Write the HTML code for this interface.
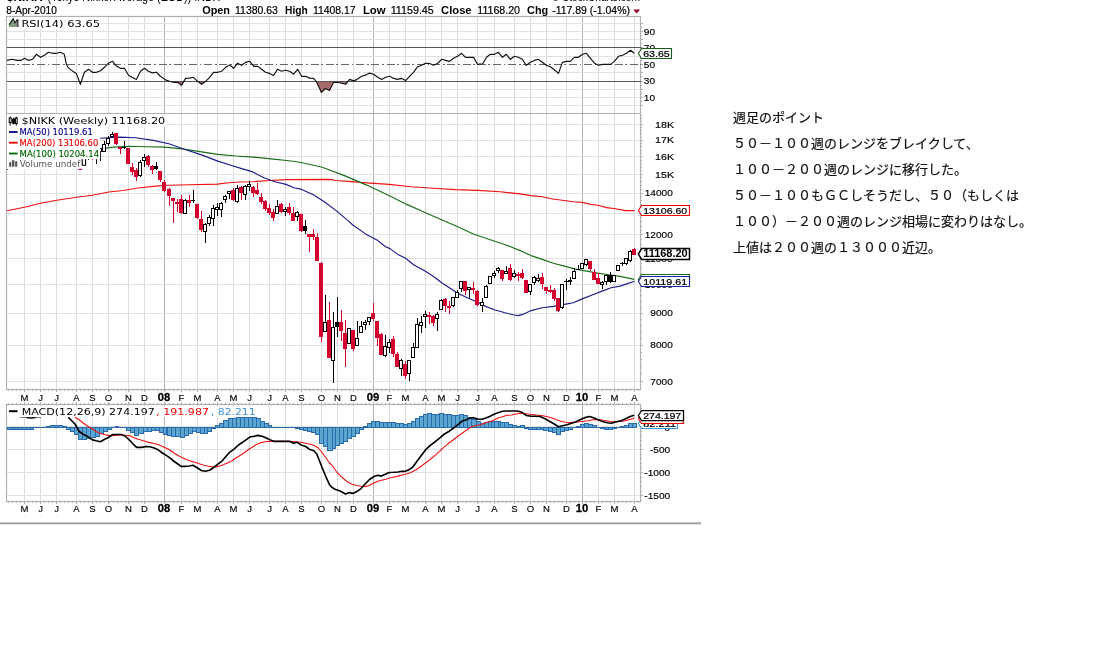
<!DOCTYPE html>
<html lang="ja"><head><meta charset="utf-8"><title>NIKK Weekly</title>
<style>
html,body{margin:0;padding:0;background:#fff;}
body{width:1107px;height:666px;overflow:hidden;position:relative;font-family:"Liberation Sans","Noto Sans CJK JP",sans-serif;}
svg{position:absolute;left:0;top:0;display:block;}
.note{position:absolute;left:733px;top:105px;margin:0;font-size:13px;line-height:26px;color:#111;white-space:nowrap;-webkit-text-stroke:0.2px #111;font-family:"Liberation Sans","Noto Sans CJK JP",sans-serif;letter-spacing:0px;}
.note p{margin:0;}
.ax{font-family:"Liberation Sans",sans-serif;font-size:10.5px;fill:#000;}
.lg{font-family:"DejaVu Sans","Liberation Sans",sans-serif;}
</style></head><body>
<svg width="1107" height="666" viewBox="0 0 1107 666">
<rect x="0" y="0" width="1107" height="666" fill="#fff"/>
<g font-family="Liberation Sans, sans-serif" fill="#000">
<text x="6.7" y="0.8" font-size="12.4" font-weight="bold" textLength="36.1" lengthAdjust="spacingAndGlyphs">$NIKK</text>
<text x="47.6" y="0.8" font-size="12" textLength="172.4" lengthAdjust="spacingAndGlyphs">(Tokyo Nikkei Average (EOD)) INDX</text>
<text x="552" y="0.6" font-size="11" textLength="88" lengthAdjust="spacingAndGlyphs">© StockCharts.com</text>
<text x="6.3" y="13.9" font-size="10" stroke="#000" stroke-width="0.2" textLength="50.5" lengthAdjust="spacingAndGlyphs">8-Apr-2010</text>
<text x="202.2" y="13.9" font-size="10.8" font-weight="bold" textLength="27.8" lengthAdjust="spacingAndGlyphs">Open</text>
<text x="235.1" y="13.9" font-size="10" stroke="#000" stroke-width="0.2" textLength="42.7" lengthAdjust="spacingAndGlyphs">11380.63</text>
<text x="285.1" y="13.9" font-size="10.8" font-weight="bold" textLength="22.7" lengthAdjust="spacingAndGlyphs">High</text>
<text x="312.9" y="13.9" font-size="10" stroke="#000" stroke-width="0.2" textLength="42.7" lengthAdjust="spacingAndGlyphs">11408.17</text>
<text x="362.9" y="13.9" font-size="10.8" font-weight="bold" textLength="22.7" lengthAdjust="spacingAndGlyphs">Low</text>
<text x="390.7" y="13.9" font-size="10" stroke="#000" stroke-width="0.2" textLength="43.1" lengthAdjust="spacingAndGlyphs">11159.45</text>
<text x="441.1" y="13.9" font-size="10.8" font-weight="bold" textLength="30.5" lengthAdjust="spacingAndGlyphs">Close</text>
<text x="477.3" y="13.9" font-size="10" stroke="#000" stroke-width="0.2" textLength="42.7" lengthAdjust="spacingAndGlyphs">11168.20</text>
<text x="527.1" y="13.9" font-size="10.8" font-weight="bold" textLength="21.1" lengthAdjust="spacingAndGlyphs">Chg</text>
<text x="552.2" y="13.9" font-size="10" stroke="#000" stroke-width="0.2" textLength="77.8" lengthAdjust="spacingAndGlyphs">-117.89 (-1.04%)</text>
<path d="M633.2 9.6 L640.2 9.6 L636.7 13.6 Z" fill="#990028"/>
</g>
<g shape-rendering="crispEdges" fill="none">
<path d="M24.5 16.5 V389.5 M24.5 404.5 V501.5" stroke="#dcdcdc" stroke-width="1"/>
<path d="M40.5 16.5 V389.5 M40.5 404.5 V501.5" stroke="#dcdcdc" stroke-width="1"/>
<path d="M56.5 16.5 V389.5 M56.5 404.5 V501.5" stroke="#dcdcdc" stroke-width="1"/>
<path d="M76.5 16.5 V389.5 M76.5 404.5 V501.5" stroke="#dcdcdc" stroke-width="1"/>
<path d="M92.5 16.5 V389.5 M92.5 404.5 V501.5" stroke="#dcdcdc" stroke-width="1"/>
<path d="M108.5 16.5 V389.5 M108.5 404.5 V501.5" stroke="#dcdcdc" stroke-width="1"/>
<path d="M128.5 16.5 V389.5 M128.5 404.5 V501.5" stroke="#dcdcdc" stroke-width="1"/>
<path d="M144.5 16.5 V389.5 M144.5 404.5 V501.5" stroke="#dcdcdc" stroke-width="1"/>
<path d="M164.5 16.5 V389.5 M164.5 404.5 V501.5" stroke="#b2b2b2" stroke-width="1"/>
<path d="M181.5 16.5 V389.5 M181.5 404.5 V501.5" stroke="#dcdcdc" stroke-width="1"/>
<path d="M197.5 16.5 V389.5 M197.5 404.5 V501.5" stroke="#dcdcdc" stroke-width="1"/>
<path d="M217.5 16.5 V389.5 M217.5 404.5 V501.5" stroke="#dcdcdc" stroke-width="1"/>
<path d="M233.5 16.5 V389.5 M233.5 404.5 V501.5" stroke="#dcdcdc" stroke-width="1"/>
<path d="M249.5 16.5 V389.5 M249.5 404.5 V501.5" stroke="#dcdcdc" stroke-width="1"/>
<path d="M269.5 16.5 V389.5 M269.5 404.5 V501.5" stroke="#dcdcdc" stroke-width="1"/>
<path d="M285.5 16.5 V389.5 M285.5 404.5 V501.5" stroke="#dcdcdc" stroke-width="1"/>
<path d="M301.5 16.5 V389.5 M301.5 404.5 V501.5" stroke="#dcdcdc" stroke-width="1"/>
<path d="M321.5 16.5 V389.5 M321.5 404.5 V501.5" stroke="#dcdcdc" stroke-width="1"/>
<path d="M337.5 16.5 V389.5 M337.5 404.5 V501.5" stroke="#dcdcdc" stroke-width="1"/>
<path d="M353.5 16.5 V389.5 M353.5 404.5 V501.5" stroke="#dcdcdc" stroke-width="1"/>
<path d="M373.5 16.5 V389.5 M373.5 404.5 V501.5" stroke="#b2b2b2" stroke-width="1"/>
<path d="M389.5 16.5 V389.5 M389.5 404.5 V501.5" stroke="#dcdcdc" stroke-width="1"/>
<path d="M405.5 16.5 V389.5 M405.5 404.5 V501.5" stroke="#dcdcdc" stroke-width="1"/>
<path d="M425.5 16.5 V389.5 M425.5 404.5 V501.5" stroke="#dcdcdc" stroke-width="1"/>
<path d="M441.5 16.5 V389.5 M441.5 404.5 V501.5" stroke="#dcdcdc" stroke-width="1"/>
<path d="M457.5 16.5 V389.5 M457.5 404.5 V501.5" stroke="#dcdcdc" stroke-width="1"/>
<path d="M477.5 16.5 V389.5 M477.5 404.5 V501.5" stroke="#dcdcdc" stroke-width="1"/>
<path d="M494.5 16.5 V389.5 M494.5 404.5 V501.5" stroke="#dcdcdc" stroke-width="1"/>
<path d="M514.5 16.5 V389.5 M514.5 404.5 V501.5" stroke="#dcdcdc" stroke-width="1"/>
<path d="M530.5 16.5 V389.5 M530.5 404.5 V501.5" stroke="#dcdcdc" stroke-width="1"/>
<path d="M546.5 16.5 V389.5 M546.5 404.5 V501.5" stroke="#dcdcdc" stroke-width="1"/>
<path d="M566.5 16.5 V389.5 M566.5 404.5 V501.5" stroke="#dcdcdc" stroke-width="1"/>
<path d="M582.5 16.5 V389.5 M582.5 404.5 V501.5" stroke="#b2b2b2" stroke-width="1"/>
<path d="M598.5 16.5 V389.5 M598.5 404.5 V501.5" stroke="#dcdcdc" stroke-width="1"/>
<path d="M614.5 16.5 V389.5 M614.5 404.5 V501.5" stroke="#dcdcdc" stroke-width="1"/>
<path d="M634.5 16.5 V389.5 M634.5 404.5 V501.5" stroke="#dcdcdc" stroke-width="1"/>
<path d="M6.5 105.8 H640.5" stroke="#e2e2e2"/>
<path d="M6.5 97.5 H640.5" stroke="#e2e2e2"/>
<path d="M6.5 89.2 H640.5" stroke="#e2e2e2"/>
<path d="M6.5 72.7 H640.5" stroke="#e2e2e2"/>
<path d="M6.5 56.1 H640.5" stroke="#e2e2e2"/>
<path d="M6.5 39.6 H640.5" stroke="#e2e2e2"/>
<path d="M6.5 31.3 H640.5" stroke="#e2e2e2"/>
<path d="M6.5 23.0 H640.5" stroke="#e2e2e2"/>
<path d="M6.5 381.4 H640.5" stroke="#e2e2e2"/>
<path d="M6.5 345.1 H640.5" stroke="#e2e2e2"/>
<path d="M6.5 313.1 H640.5" stroke="#e2e2e2"/>
<path d="M6.5 284.5 H640.5" stroke="#e2e2e2"/>
<path d="M6.5 258.6 H640.5" stroke="#e2e2e2"/>
<path d="M6.5 234.9 H640.5" stroke="#e2e2e2"/>
<path d="M6.5 213.1 H640.5" stroke="#e2e2e2"/>
<path d="M6.5 193.0 H640.5" stroke="#e2e2e2"/>
<path d="M6.5 174.3 H640.5" stroke="#e2e2e2"/>
<path d="M6.5 156.7 H640.5" stroke="#e2e2e2"/>
<path d="M6.5 140.2 H640.5" stroke="#e2e2e2"/>
<path d="M6.5 124.7 H640.5" stroke="#e2e2e2"/>
<path d="M6.5 426.6 H640.5" stroke="#e2e2e2"/>
<path d="M6.5 449.7 H640.5" stroke="#e2e2e2"/>
<path d="M6.5 472.7 H640.5" stroke="#e2e2e2"/>
<path d="M6.5 495.8 H640.5" stroke="#e2e2e2"/>
</g>
<g fill="none" stroke="#b0b0b0" stroke-width="1.2">
<rect x="6.5" y="16.5" width="634.0" height="373.0"/>
<path d="M6.5 113.5 H640.5"/>
<rect x="6.5" y="404.5" width="634.0" height="97.0"/>
</g>
<g stroke="#b0b0b0" stroke-width="1" fill="none" shape-rendering="crispEdges">
<path d="M640.5 105.8 h2.5"/>
<path d="M640.5 101.7 h1.5"/>
<path d="M640.5 97.5 h2.5"/>
<path d="M640.5 93.4 h1.5"/>
<path d="M640.5 89.2 h2.5"/>
<path d="M640.5 85.1 h1.5"/>
<path d="M640.5 81.0 h2.5"/>
<path d="M640.5 76.8 h1.5"/>
<path d="M640.5 72.7 h2.5"/>
<path d="M640.5 68.6 h1.5"/>
<path d="M640.5 64.4 h2.5"/>
<path d="M640.5 60.3 h1.5"/>
<path d="M640.5 56.1 h2.5"/>
<path d="M640.5 52.0 h1.5"/>
<path d="M640.5 47.9 h2.5"/>
<path d="M640.5 43.7 h1.5"/>
<path d="M640.5 39.6 h2.5"/>
<path d="M640.5 35.5 h1.5"/>
<path d="M640.5 31.3 h2.5"/>
<path d="M640.5 27.2 h1.5"/>
<path d="M640.5 23.0 h2.5"/>
<path d="M640.5 381.4 h2.5"/>
<path d="M640.5 373.7 h1.5"/>
<path d="M640.5 366.3 h1.5"/>
<path d="M640.5 359.1 h1.5"/>
<path d="M640.5 352.0 h1.5"/>
<path d="M640.5 345.1 h2.5"/>
<path d="M640.5 338.4 h1.5"/>
<path d="M640.5 331.8 h1.5"/>
<path d="M640.5 325.5 h1.5"/>
<path d="M640.5 319.2 h1.5"/>
<path d="M640.5 313.1 h2.5"/>
<path d="M640.5 307.1 h1.5"/>
<path d="M640.5 301.3 h1.5"/>
<path d="M640.5 295.6 h1.5"/>
<path d="M640.5 290.0 h1.5"/>
<path d="M640.5 284.5 h2.5"/>
<path d="M640.5 279.1 h1.5"/>
<path d="M640.5 273.8 h1.5"/>
<path d="M640.5 268.6 h1.5"/>
<path d="M640.5 263.5 h1.5"/>
<path d="M640.5 258.6 h2.5"/>
<path d="M640.5 253.7 h1.5"/>
<path d="M640.5 248.8 h1.5"/>
<path d="M640.5 244.1 h1.5"/>
<path d="M640.5 239.5 h1.5"/>
<path d="M640.5 234.9 h2.5"/>
<path d="M640.5 230.4 h1.5"/>
<path d="M640.5 226.0 h1.5"/>
<path d="M640.5 221.6 h1.5"/>
<path d="M640.5 217.4 h1.5"/>
<path d="M640.5 213.1 h2.5"/>
<path d="M640.5 209.0 h1.5"/>
<path d="M640.5 204.9 h1.5"/>
<path d="M640.5 200.9 h1.5"/>
<path d="M640.5 196.9 h1.5"/>
<path d="M640.5 193.0 h2.5"/>
<path d="M640.5 189.2 h1.5"/>
<path d="M640.5 185.4 h1.5"/>
<path d="M640.5 181.6 h1.5"/>
<path d="M640.5 177.9 h1.5"/>
<path d="M640.5 174.3 h2.5"/>
<path d="M640.5 170.7 h1.5"/>
<path d="M640.5 167.1 h1.5"/>
<path d="M640.5 163.6 h1.5"/>
<path d="M640.5 160.1 h1.5"/>
<path d="M640.5 156.7 h2.5"/>
<path d="M640.5 153.3 h1.5"/>
<path d="M640.5 150.0 h1.5"/>
<path d="M640.5 146.7 h1.5"/>
<path d="M640.5 143.5 h1.5"/>
<path d="M640.5 140.2 h2.5"/>
<path d="M640.5 137.1 h1.5"/>
<path d="M640.5 133.9 h1.5"/>
<path d="M640.5 130.8 h1.5"/>
<path d="M640.5 127.7 h1.5"/>
<path d="M640.5 124.7 h2.5"/>
<path d="M640.5 121.7 h1.5"/>
<path d="M640.5 118.7 h1.5"/>
<path d="M640.5 115.8 h1.5"/>
<path d="M640.5 500.4 h1.5"/>
<path d="M640.5 495.8 h2.5"/>
<path d="M640.5 491.1 h1.5"/>
<path d="M640.5 486.5 h1.5"/>
<path d="M640.5 481.9 h1.5"/>
<path d="M640.5 477.3 h1.5"/>
<path d="M640.5 472.7 h2.5"/>
<path d="M640.5 468.1 h1.5"/>
<path d="M640.5 463.5 h1.5"/>
<path d="M640.5 458.9 h1.5"/>
<path d="M640.5 454.3 h1.5"/>
<path d="M640.5 449.7 h2.5"/>
<path d="M640.5 445.0 h1.5"/>
<path d="M640.5 440.4 h1.5"/>
<path d="M640.5 435.8 h1.5"/>
<path d="M640.5 431.2 h1.5"/>
<path d="M640.5 426.6 h2.5"/>
<path d="M640.5 422.0 h1.5"/>
<path d="M640.5 417.4 h1.5"/>
<path d="M640.5 412.8 h1.5"/>
<path d="M640.5 408.2 h1.5"/>
<path d="M8.6 389.5 v1.5 M8.6 404.5 v-1.5 M8.6 501.5 v1.5"/>
<path d="M12.6 389.5 v1.5 M12.6 404.5 v-1.5 M12.6 501.5 v1.5"/>
<path d="M16.6 389.5 v1.5 M16.6 404.5 v-1.5 M16.6 501.5 v1.5"/>
<path d="M20.6 389.5 v1.5 M20.6 404.5 v-1.5 M20.6 501.5 v1.5"/>
<path d="M24.7 389.5 v1.5 M24.7 404.5 v-1.5 M24.7 501.5 v1.5"/>
<path d="M28.7 389.5 v1.5 M28.7 404.5 v-1.5 M28.7 501.5 v1.5"/>
<path d="M32.7 389.5 v1.5 M32.7 404.5 v-1.5 M32.7 501.5 v1.5"/>
<path d="M36.7 389.5 v1.5 M36.7 404.5 v-1.5 M36.7 501.5 v1.5"/>
<path d="M40.7 389.5 v1.5 M40.7 404.5 v-1.5 M40.7 501.5 v1.5"/>
<path d="M44.7 389.5 v1.5 M44.7 404.5 v-1.5 M44.7 501.5 v1.5"/>
<path d="M48.7 389.5 v1.5 M48.7 404.5 v-1.5 M48.7 501.5 v1.5"/>
<path d="M52.8 389.5 v1.5 M52.8 404.5 v-1.5 M52.8 501.5 v1.5"/>
<path d="M56.8 389.5 v1.5 M56.8 404.5 v-1.5 M56.8 501.5 v1.5"/>
<path d="M60.8 389.5 v1.5 M60.8 404.5 v-1.5 M60.8 501.5 v1.5"/>
<path d="M64.8 389.5 v1.5 M64.8 404.5 v-1.5 M64.8 501.5 v1.5"/>
<path d="M68.8 389.5 v1.5 M68.8 404.5 v-1.5 M68.8 501.5 v1.5"/>
<path d="M72.8 389.5 v1.5 M72.8 404.5 v-1.5 M72.8 501.5 v1.5"/>
<path d="M76.8 389.5 v1.5 M76.8 404.5 v-1.5 M76.8 501.5 v1.5"/>
<path d="M80.9 389.5 v1.5 M80.9 404.5 v-1.5 M80.9 501.5 v1.5"/>
<path d="M84.9 389.5 v1.5 M84.9 404.5 v-1.5 M84.9 501.5 v1.5"/>
<path d="M88.9 389.5 v1.5 M88.9 404.5 v-1.5 M88.9 501.5 v1.5"/>
<path d="M92.9 389.5 v1.5 M92.9 404.5 v-1.5 M92.9 501.5 v1.5"/>
<path d="M96.9 389.5 v1.5 M96.9 404.5 v-1.5 M96.9 501.5 v1.5"/>
<path d="M100.9 389.5 v1.5 M100.9 404.5 v-1.5 M100.9 501.5 v1.5"/>
<path d="M104.9 389.5 v1.5 M104.9 404.5 v-1.5 M104.9 501.5 v1.5"/>
<path d="M109.0 389.5 v1.5 M109.0 404.5 v-1.5 M109.0 501.5 v1.5"/>
<path d="M113.0 389.5 v1.5 M113.0 404.5 v-1.5 M113.0 501.5 v1.5"/>
<path d="M117.0 389.5 v1.5 M117.0 404.5 v-1.5 M117.0 501.5 v1.5"/>
<path d="M121.0 389.5 v1.5 M121.0 404.5 v-1.5 M121.0 501.5 v1.5"/>
<path d="M125.0 389.5 v1.5 M125.0 404.5 v-1.5 M125.0 501.5 v1.5"/>
<path d="M129.0 389.5 v1.5 M129.0 404.5 v-1.5 M129.0 501.5 v1.5"/>
<path d="M133.0 389.5 v1.5 M133.0 404.5 v-1.5 M133.0 501.5 v1.5"/>
<path d="M137.0 389.5 v1.5 M137.0 404.5 v-1.5 M137.0 501.5 v1.5"/>
<path d="M141.1 389.5 v1.5 M141.1 404.5 v-1.5 M141.1 501.5 v1.5"/>
<path d="M145.1 389.5 v1.5 M145.1 404.5 v-1.5 M145.1 501.5 v1.5"/>
<path d="M149.1 389.5 v1.5 M149.1 404.5 v-1.5 M149.1 501.5 v1.5"/>
<path d="M153.1 389.5 v1.5 M153.1 404.5 v-1.5 M153.1 501.5 v1.5"/>
<path d="M157.1 389.5 v1.5 M157.1 404.5 v-1.5 M157.1 501.5 v1.5"/>
<path d="M161.1 389.5 v1.5 M161.1 404.5 v-1.5 M161.1 501.5 v1.5"/>
<path d="M165.1 389.5 v1.5 M165.1 404.5 v-1.5 M165.1 501.5 v1.5"/>
<path d="M169.2 389.5 v1.5 M169.2 404.5 v-1.5 M169.2 501.5 v1.5"/>
<path d="M173.2 389.5 v1.5 M173.2 404.5 v-1.5 M173.2 501.5 v1.5"/>
<path d="M177.2 389.5 v1.5 M177.2 404.5 v-1.5 M177.2 501.5 v1.5"/>
<path d="M181.2 389.5 v1.5 M181.2 404.5 v-1.5 M181.2 501.5 v1.5"/>
<path d="M185.2 389.5 v1.5 M185.2 404.5 v-1.5 M185.2 501.5 v1.5"/>
<path d="M189.2 389.5 v1.5 M189.2 404.5 v-1.5 M189.2 501.5 v1.5"/>
<path d="M193.2 389.5 v1.5 M193.2 404.5 v-1.5 M193.2 501.5 v1.5"/>
<path d="M197.3 389.5 v1.5 M197.3 404.5 v-1.5 M197.3 501.5 v1.5"/>
<path d="M201.3 389.5 v1.5 M201.3 404.5 v-1.5 M201.3 501.5 v1.5"/>
<path d="M205.3 389.5 v1.5 M205.3 404.5 v-1.5 M205.3 501.5 v1.5"/>
<path d="M209.3 389.5 v1.5 M209.3 404.5 v-1.5 M209.3 501.5 v1.5"/>
<path d="M213.3 389.5 v1.5 M213.3 404.5 v-1.5 M213.3 501.5 v1.5"/>
<path d="M217.3 389.5 v1.5 M217.3 404.5 v-1.5 M217.3 501.5 v1.5"/>
<path d="M221.3 389.5 v1.5 M221.3 404.5 v-1.5 M221.3 501.5 v1.5"/>
<path d="M225.4 389.5 v1.5 M225.4 404.5 v-1.5 M225.4 501.5 v1.5"/>
<path d="M229.4 389.5 v1.5 M229.4 404.5 v-1.5 M229.4 501.5 v1.5"/>
<path d="M233.4 389.5 v1.5 M233.4 404.5 v-1.5 M233.4 501.5 v1.5"/>
<path d="M237.4 389.5 v1.5 M237.4 404.5 v-1.5 M237.4 501.5 v1.5"/>
<path d="M241.4 389.5 v1.5 M241.4 404.5 v-1.5 M241.4 501.5 v1.5"/>
<path d="M245.4 389.5 v1.5 M245.4 404.5 v-1.5 M245.4 501.5 v1.5"/>
<path d="M249.4 389.5 v1.5 M249.4 404.5 v-1.5 M249.4 501.5 v1.5"/>
<path d="M253.5 389.5 v1.5 M253.5 404.5 v-1.5 M253.5 501.5 v1.5"/>
<path d="M257.5 389.5 v1.5 M257.5 404.5 v-1.5 M257.5 501.5 v1.5"/>
<path d="M261.5 389.5 v1.5 M261.5 404.5 v-1.5 M261.5 501.5 v1.5"/>
<path d="M265.5 389.5 v1.5 M265.5 404.5 v-1.5 M265.5 501.5 v1.5"/>
<path d="M269.5 389.5 v1.5 M269.5 404.5 v-1.5 M269.5 501.5 v1.5"/>
<path d="M273.5 389.5 v1.5 M273.5 404.5 v-1.5 M273.5 501.5 v1.5"/>
<path d="M277.5 389.5 v1.5 M277.5 404.5 v-1.5 M277.5 501.5 v1.5"/>
<path d="M281.6 389.5 v1.5 M281.6 404.5 v-1.5 M281.6 501.5 v1.5"/>
<path d="M285.6 389.5 v1.5 M285.6 404.5 v-1.5 M285.6 501.5 v1.5"/>
<path d="M289.6 389.5 v1.5 M289.6 404.5 v-1.5 M289.6 501.5 v1.5"/>
<path d="M293.6 389.5 v1.5 M293.6 404.5 v-1.5 M293.6 501.5 v1.5"/>
<path d="M297.6 389.5 v1.5 M297.6 404.5 v-1.5 M297.6 501.5 v1.5"/>
<path d="M301.6 389.5 v1.5 M301.6 404.5 v-1.5 M301.6 501.5 v1.5"/>
<path d="M305.6 389.5 v1.5 M305.6 404.5 v-1.5 M305.6 501.5 v1.5"/>
<path d="M309.7 389.5 v1.5 M309.7 404.5 v-1.5 M309.7 501.5 v1.5"/>
<path d="M313.7 389.5 v1.5 M313.7 404.5 v-1.5 M313.7 501.5 v1.5"/>
<path d="M317.7 389.5 v1.5 M317.7 404.5 v-1.5 M317.7 501.5 v1.5"/>
<path d="M321.7 389.5 v1.5 M321.7 404.5 v-1.5 M321.7 501.5 v1.5"/>
<path d="M325.7 389.5 v1.5 M325.7 404.5 v-1.5 M325.7 501.5 v1.5"/>
<path d="M329.7 389.5 v1.5 M329.7 404.5 v-1.5 M329.7 501.5 v1.5"/>
<path d="M333.7 389.5 v1.5 M333.7 404.5 v-1.5 M333.7 501.5 v1.5"/>
<path d="M337.7 389.5 v1.5 M337.7 404.5 v-1.5 M337.7 501.5 v1.5"/>
<path d="M341.8 389.5 v1.5 M341.8 404.5 v-1.5 M341.8 501.5 v1.5"/>
<path d="M345.8 389.5 v1.5 M345.8 404.5 v-1.5 M345.8 501.5 v1.5"/>
<path d="M349.8 389.5 v1.5 M349.8 404.5 v-1.5 M349.8 501.5 v1.5"/>
<path d="M353.8 389.5 v1.5 M353.8 404.5 v-1.5 M353.8 501.5 v1.5"/>
<path d="M357.8 389.5 v1.5 M357.8 404.5 v-1.5 M357.8 501.5 v1.5"/>
<path d="M361.8 389.5 v1.5 M361.8 404.5 v-1.5 M361.8 501.5 v1.5"/>
<path d="M365.8 389.5 v1.5 M365.8 404.5 v-1.5 M365.8 501.5 v1.5"/>
<path d="M369.9 389.5 v1.5 M369.9 404.5 v-1.5 M369.9 501.5 v1.5"/>
<path d="M373.9 389.5 v1.5 M373.9 404.5 v-1.5 M373.9 501.5 v1.5"/>
<path d="M377.9 389.5 v1.5 M377.9 404.5 v-1.5 M377.9 501.5 v1.5"/>
<path d="M381.9 389.5 v1.5 M381.9 404.5 v-1.5 M381.9 501.5 v1.5"/>
<path d="M385.9 389.5 v1.5 M385.9 404.5 v-1.5 M385.9 501.5 v1.5"/>
<path d="M389.9 389.5 v1.5 M389.9 404.5 v-1.5 M389.9 501.5 v1.5"/>
<path d="M393.9 389.5 v1.5 M393.9 404.5 v-1.5 M393.9 501.5 v1.5"/>
<path d="M398.0 389.5 v1.5 M398.0 404.5 v-1.5 M398.0 501.5 v1.5"/>
<path d="M402.0 389.5 v1.5 M402.0 404.5 v-1.5 M402.0 501.5 v1.5"/>
<path d="M406.0 389.5 v1.5 M406.0 404.5 v-1.5 M406.0 501.5 v1.5"/>
<path d="M410.0 389.5 v1.5 M410.0 404.5 v-1.5 M410.0 501.5 v1.5"/>
<path d="M414.0 389.5 v1.5 M414.0 404.5 v-1.5 M414.0 501.5 v1.5"/>
<path d="M418.0 389.5 v1.5 M418.0 404.5 v-1.5 M418.0 501.5 v1.5"/>
<path d="M422.0 389.5 v1.5 M422.0 404.5 v-1.5 M422.0 501.5 v1.5"/>
<path d="M426.1 389.5 v1.5 M426.1 404.5 v-1.5 M426.1 501.5 v1.5"/>
<path d="M430.1 389.5 v1.5 M430.1 404.5 v-1.5 M430.1 501.5 v1.5"/>
<path d="M434.1 389.5 v1.5 M434.1 404.5 v-1.5 M434.1 501.5 v1.5"/>
<path d="M438.1 389.5 v1.5 M438.1 404.5 v-1.5 M438.1 501.5 v1.5"/>
<path d="M442.1 389.5 v1.5 M442.1 404.5 v-1.5 M442.1 501.5 v1.5"/>
<path d="M446.1 389.5 v1.5 M446.1 404.5 v-1.5 M446.1 501.5 v1.5"/>
<path d="M450.1 389.5 v1.5 M450.1 404.5 v-1.5 M450.1 501.5 v1.5"/>
<path d="M454.2 389.5 v1.5 M454.2 404.5 v-1.5 M454.2 501.5 v1.5"/>
<path d="M458.2 389.5 v1.5 M458.2 404.5 v-1.5 M458.2 501.5 v1.5"/>
<path d="M462.2 389.5 v1.5 M462.2 404.5 v-1.5 M462.2 501.5 v1.5"/>
<path d="M466.2 389.5 v1.5 M466.2 404.5 v-1.5 M466.2 501.5 v1.5"/>
<path d="M470.2 389.5 v1.5 M470.2 404.5 v-1.5 M470.2 501.5 v1.5"/>
<path d="M474.2 389.5 v1.5 M474.2 404.5 v-1.5 M474.2 501.5 v1.5"/>
<path d="M478.2 389.5 v1.5 M478.2 404.5 v-1.5 M478.2 501.5 v1.5"/>
<path d="M482.3 389.5 v1.5 M482.3 404.5 v-1.5 M482.3 501.5 v1.5"/>
<path d="M486.3 389.5 v1.5 M486.3 404.5 v-1.5 M486.3 501.5 v1.5"/>
<path d="M490.3 389.5 v1.5 M490.3 404.5 v-1.5 M490.3 501.5 v1.5"/>
<path d="M494.3 389.5 v1.5 M494.3 404.5 v-1.5 M494.3 501.5 v1.5"/>
<path d="M498.3 389.5 v1.5 M498.3 404.5 v-1.5 M498.3 501.5 v1.5"/>
<path d="M502.3 389.5 v1.5 M502.3 404.5 v-1.5 M502.3 501.5 v1.5"/>
<path d="M506.3 389.5 v1.5 M506.3 404.5 v-1.5 M506.3 501.5 v1.5"/>
<path d="M510.4 389.5 v1.5 M510.4 404.5 v-1.5 M510.4 501.5 v1.5"/>
<path d="M514.4 389.5 v1.5 M514.4 404.5 v-1.5 M514.4 501.5 v1.5"/>
<path d="M518.4 389.5 v1.5 M518.4 404.5 v-1.5 M518.4 501.5 v1.5"/>
<path d="M522.4 389.5 v1.5 M522.4 404.5 v-1.5 M522.4 501.5 v1.5"/>
<path d="M526.4 389.5 v1.5 M526.4 404.5 v-1.5 M526.4 501.5 v1.5"/>
<path d="M530.4 389.5 v1.5 M530.4 404.5 v-1.5 M530.4 501.5 v1.5"/>
<path d="M534.4 389.5 v1.5 M534.4 404.5 v-1.5 M534.4 501.5 v1.5"/>
<path d="M538.4 389.5 v1.5 M538.4 404.5 v-1.5 M538.4 501.5 v1.5"/>
<path d="M542.5 389.5 v1.5 M542.5 404.5 v-1.5 M542.5 501.5 v1.5"/>
<path d="M546.5 389.5 v1.5 M546.5 404.5 v-1.5 M546.5 501.5 v1.5"/>
<path d="M550.5 389.5 v1.5 M550.5 404.5 v-1.5 M550.5 501.5 v1.5"/>
<path d="M554.5 389.5 v1.5 M554.5 404.5 v-1.5 M554.5 501.5 v1.5"/>
<path d="M558.5 389.5 v1.5 M558.5 404.5 v-1.5 M558.5 501.5 v1.5"/>
<path d="M562.5 389.5 v1.5 M562.5 404.5 v-1.5 M562.5 501.5 v1.5"/>
<path d="M566.5 389.5 v1.5 M566.5 404.5 v-1.5 M566.5 501.5 v1.5"/>
<path d="M570.6 389.5 v1.5 M570.6 404.5 v-1.5 M570.6 501.5 v1.5"/>
<path d="M574.6 389.5 v1.5 M574.6 404.5 v-1.5 M574.6 501.5 v1.5"/>
<path d="M578.6 389.5 v1.5 M578.6 404.5 v-1.5 M578.6 501.5 v1.5"/>
<path d="M582.6 389.5 v1.5 M582.6 404.5 v-1.5 M582.6 501.5 v1.5"/>
<path d="M586.6 389.5 v1.5 M586.6 404.5 v-1.5 M586.6 501.5 v1.5"/>
<path d="M590.6 389.5 v1.5 M590.6 404.5 v-1.5 M590.6 501.5 v1.5"/>
<path d="M594.6 389.5 v1.5 M594.6 404.5 v-1.5 M594.6 501.5 v1.5"/>
<path d="M598.7 389.5 v1.5 M598.7 404.5 v-1.5 M598.7 501.5 v1.5"/>
<path d="M602.7 389.5 v1.5 M602.7 404.5 v-1.5 M602.7 501.5 v1.5"/>
<path d="M606.7 389.5 v1.5 M606.7 404.5 v-1.5 M606.7 501.5 v1.5"/>
<path d="M610.7 389.5 v1.5 M610.7 404.5 v-1.5 M610.7 501.5 v1.5"/>
<path d="M614.7 389.5 v1.5 M614.7 404.5 v-1.5 M614.7 501.5 v1.5"/>
<path d="M618.7 389.5 v1.5 M618.7 404.5 v-1.5 M618.7 501.5 v1.5"/>
<path d="M622.7 389.5 v1.5 M622.7 404.5 v-1.5 M622.7 501.5 v1.5"/>
<path d="M626.8 389.5 v1.5 M626.8 404.5 v-1.5 M626.8 501.5 v1.5"/>
<path d="M630.8 389.5 v1.5 M630.8 404.5 v-1.5 M630.8 501.5 v1.5"/>
<path d="M634.8 389.5 v1.5 M634.8 404.5 v-1.5 M634.8 501.5 v1.5"/>
<path d="M638.8 389.5 v1.5 M638.8 404.5 v-1.5 M638.8 501.5 v1.5"/>
<path d="M24.5 389.5 v2.5 M24.5 404.5 v-2.5 M24.5 501.5 v2.5"/>
<path d="M40.5 389.5 v2.5 M40.5 404.5 v-2.5 M40.5 501.5 v2.5"/>
<path d="M56.5 389.5 v2.5 M56.5 404.5 v-2.5 M56.5 501.5 v2.5"/>
<path d="M76.5 389.5 v2.5 M76.5 404.5 v-2.5 M76.5 501.5 v2.5"/>
<path d="M92.5 389.5 v2.5 M92.5 404.5 v-2.5 M92.5 501.5 v2.5"/>
<path d="M108.5 389.5 v2.5 M108.5 404.5 v-2.5 M108.5 501.5 v2.5"/>
<path d="M128.5 389.5 v2.5 M128.5 404.5 v-2.5 M128.5 501.5 v2.5"/>
<path d="M144.5 389.5 v2.5 M144.5 404.5 v-2.5 M144.5 501.5 v2.5"/>
<path d="M164.5 389.5 v2.5 M164.5 404.5 v-2.5 M164.5 501.5 v2.5"/>
<path d="M181.5 389.5 v2.5 M181.5 404.5 v-2.5 M181.5 501.5 v2.5"/>
<path d="M197.5 389.5 v2.5 M197.5 404.5 v-2.5 M197.5 501.5 v2.5"/>
<path d="M217.5 389.5 v2.5 M217.5 404.5 v-2.5 M217.5 501.5 v2.5"/>
<path d="M233.5 389.5 v2.5 M233.5 404.5 v-2.5 M233.5 501.5 v2.5"/>
<path d="M249.5 389.5 v2.5 M249.5 404.5 v-2.5 M249.5 501.5 v2.5"/>
<path d="M269.5 389.5 v2.5 M269.5 404.5 v-2.5 M269.5 501.5 v2.5"/>
<path d="M285.5 389.5 v2.5 M285.5 404.5 v-2.5 M285.5 501.5 v2.5"/>
<path d="M301.5 389.5 v2.5 M301.5 404.5 v-2.5 M301.5 501.5 v2.5"/>
<path d="M321.5 389.5 v2.5 M321.5 404.5 v-2.5 M321.5 501.5 v2.5"/>
<path d="M337.5 389.5 v2.5 M337.5 404.5 v-2.5 M337.5 501.5 v2.5"/>
<path d="M353.5 389.5 v2.5 M353.5 404.5 v-2.5 M353.5 501.5 v2.5"/>
<path d="M373.5 389.5 v2.5 M373.5 404.5 v-2.5 M373.5 501.5 v2.5"/>
<path d="M389.5 389.5 v2.5 M389.5 404.5 v-2.5 M389.5 501.5 v2.5"/>
<path d="M405.5 389.5 v2.5 M405.5 404.5 v-2.5 M405.5 501.5 v2.5"/>
<path d="M425.5 389.5 v2.5 M425.5 404.5 v-2.5 M425.5 501.5 v2.5"/>
<path d="M441.5 389.5 v2.5 M441.5 404.5 v-2.5 M441.5 501.5 v2.5"/>
<path d="M457.5 389.5 v2.5 M457.5 404.5 v-2.5 M457.5 501.5 v2.5"/>
<path d="M477.5 389.5 v2.5 M477.5 404.5 v-2.5 M477.5 501.5 v2.5"/>
<path d="M494.5 389.5 v2.5 M494.5 404.5 v-2.5 M494.5 501.5 v2.5"/>
<path d="M514.5 389.5 v2.5 M514.5 404.5 v-2.5 M514.5 501.5 v2.5"/>
<path d="M530.5 389.5 v2.5 M530.5 404.5 v-2.5 M530.5 501.5 v2.5"/>
<path d="M546.5 389.5 v2.5 M546.5 404.5 v-2.5 M546.5 501.5 v2.5"/>
<path d="M566.5 389.5 v2.5 M566.5 404.5 v-2.5 M566.5 501.5 v2.5"/>
<path d="M582.5 389.5 v2.5 M582.5 404.5 v-2.5 M582.5 501.5 v2.5"/>
<path d="M598.5 389.5 v2.5 M598.5 404.5 v-2.5 M598.5 501.5 v2.5"/>
<path d="M614.5 389.5 v2.5 M614.5 404.5 v-2.5 M614.5 501.5 v2.5"/>
<path d="M634.5 389.5 v2.5 M634.5 404.5 v-2.5 M634.5 501.5 v2.5"/>
</g>
<polygon points="79.3,81.5 80.4,84.3 81.3,81.5" fill="#a86a6a"/>
<polygon points="170.3,81.5 173.4,82.3 177.5,82.3 181.5,85.4 183.8,81.5" fill="#a86a6a"/>
<polygon points="197.8,81.5 201.6,84.3 205.4,81.5" fill="#a86a6a"/>
<polygon points="316.2,81.5 320.0,89.3 321.4,92.4 325.5,88.5 329.5,90.4 333.6,82.3 337.6,82.3 341.7,83.2 345.6,84.3 347.9,81.5" fill="#a86a6a"/>
<g fill="none" stroke="#555" stroke-width="1" shape-rendering="crispEdges">
<path d="M6.5 47.5 H640.5"/><path d="M6.5 81.5 H640.5"/>
<path d="M6.5 64.5 H640.5" stroke-dasharray="8 2.6 1.8 2.8" stroke="#666"/>
</g>
<polyline fill="none" stroke="#111" stroke-width="1.15" stroke-linejoin="round" points="6.9,60.4 12.3,59.3 16.6,60.4 20.7,60.4 24.6,58.3 28.6,60.4 32.5,59.3 36.4,54.3 40.5,57.3 44.5,55.3 48.4,52.3 52.5,53.3 56.4,53.3 60.4,52.3 64.3,54.3 66.5,64.7 68.4,67.9 72.3,70.9 76.3,73.4 80.4,84.3 84.4,72.3 88.5,69.3 92.5,72.3 96.5,72.3 100.5,70.8 104.5,67.3 108.4,63.2 112.4,61.2 116.5,66.1 120.4,68.3 124.4,68.3 128.5,75.2 132.4,77.4 136.4,79.4 140.5,71.2 144.4,68.3 148.4,71.2 152.3,72.9 156.4,72.2 160.0,76.0 165.5,79.9 169.5,81.3 173.4,82.3 177.5,82.3 181.5,85.4 185.6,78.4 189.6,78.1 193.5,77.3 197.6,81.3 201.6,84.3 205.7,81.3 209.6,77.3 213.6,72.3 217.7,72.3 221.7,71.2 225.6,67.3 229.7,65.0 233.6,68.3 237.6,63.2 241.5,65.3 245.6,62.4 249.6,61.2 253.7,66.3 257.6,66.3 261.6,69.3 265.5,72.2 269.6,73.4 273.6,75.4 277.5,69.3 281.6,71.2 285.6,70.3 289.6,71.3 293.6,74.2 297.6,69.3 301.6,76.3 305.5,76.3 309.6,78.1 313.6,78.4 316.1,81.3 320.0,89.3 321.4,92.4 325.5,88.5 329.5,90.4 333.6,82.3 337.6,82.3 341.7,83.2 345.6,84.3 349.6,79.4 353.5,80.9 356.1,79.9 361.6,76.3 365.7,75.1 369.6,73.1 373.6,74.2 377.7,77.3 381.7,79.4 385.6,77.3 389.7,76.3 393.7,78.4 397.6,79.4 401.7,78.4 405.6,80.6 409.6,76.3 413.7,72.2 417.6,66.7 421.6,65.3 425.5,63.2 429.6,63.5 433.6,65.3 437.5,63.5 441.6,59.3 445.6,60.4 449.6,61.4 453.6,58.3 457.6,56.3 461.6,53.3 465.5,57.3 469.6,57.3 473.6,57.3 477.5,64.4 480.0,64.0 482.6,64.0 486.5,57.3 490.4,54.3 494.5,54.3 498.4,52.3 502.4,57.3 506.3,54.3 510.4,59.3 514.4,56.3 518.3,57.3 522.3,59.3 526.3,65.4 530.3,62.2 534.3,60.4 538.2,59.3 542.3,62.2 546.3,65.3 550.4,66.7 554.3,69.7 558.5,73.4 562.4,62.4 566.4,61.4 570.3,61.4 574.4,57.3 578.4,57.3 582.5,54.3 586.5,53.3 590.4,58.3 594.5,63.2 598.5,65.3 602.6,64.4 606.5,64.4 610.5,64.4 614.4,61.4 618.5,56.3 622.5,55.3 626.4,53.3 630.5,50.2 634.4,53.3"/>
<rect x="7.2" y="17.2" width="94" height="12.3" fill="#fff"/>
<path d="M9 26.9 L9 24.6 L11.2 21.6 L13.2 18.6 L15 22.9 L17.2 19.9 L17.9 19.9 L17.9 26.9 Z" fill="#7fa07f"/><path d="M9 24.6 L11.2 21.6 L13.2 18.6 L15 22.9 L17.2 19.9 L17.9 19.9 V26.9" fill="none" stroke="#1a1a1a" stroke-width="1.1" stroke-linejoin="miter"/>
<text class="lg" x="21.4" y="26.8" font-size="8.9" textLength="78.6" lengthAdjust="spacingAndGlyphs" fill="#000">RSI(14) 63.65</text>
<polyline fill="none" stroke="#f01010" stroke-width="1.1" stroke-linejoin="round" points="6.9,210.8 24.4,207.2 40.6,203.3 56.7,200.3 76.7,197.2 92.2,195.2 108.9,192.0 123.0,190.5 139.7,187.8 156.3,186.1 167.4,185.3 189.7,184.7 217.4,184.1 228.6,182.8 239.7,182.0 252.8,181.7 269.4,180.5 287.0,179.6 330.5,179.4 336.0,180.5 348.0,181.4 366.7,182.9 388.9,184.4 411.1,186.7 433.3,188.2 455.6,189.6 477.8,190.4 500.0,191.8 520.0,193.9 531.1,195.6 542.2,196.7 551.1,198.7 562.2,200.2 573.3,201.7 582.2,202.4 591.1,204.4 597.8,205.3 606.7,207.6 615.6,208.7 625.6,210.6 634.4,210.6"/>
<polyline fill="none" stroke="#1a6e1a" stroke-width="1.15" stroke-linejoin="round" points="100.0,148.9 113.3,147.1 128.9,146.2 146.7,146.7 164.4,147.1 182.2,148.9 200.0,151.6 217.8,154.4 235.6,156.0 253.3,157.1 271.1,158.9 288.9,160.7 300.0,162.2 322.2,167.3 344.4,175.6 366.7,185.1 388.9,195.6 406.7,204.4 424.4,212.2 442.2,220.0 460.0,227.8 473.3,234.0 491.1,240.0 508.9,246.0 520.0,250.6 531.1,255.6 542.2,259.4 553.3,263.3 564.4,266.1 575.6,269.1 586.7,271.1 597.8,273.1 608.9,274.7 620.0,276.4 634.4,279.4"/>
<polyline fill="none" stroke="#1c1c8c" stroke-width="1.15" stroke-linejoin="round" points="100.0,138.2 120.0,137.1 135.6,137.8 153.3,140.4 168.9,143.8 184.4,149.3 202.2,155.1 217.8,161.1 230.0,165.0 241.7,168.6 252.8,171.9 263.9,177.8 275.0,181.7 286.1,184.4 293.9,187.8 301.7,189.4 313.9,195.0 325.0,202.2 336.1,210.6 348.0,220.6 352.8,225.0 365.6,233.9 377.8,240.6 385.6,246.7 390.0,248.6 397.8,254.4 405.6,258.3 413.9,265.0 425.0,271.1 433.9,276.7 441.7,282.8 449.4,287.8 457.8,293.3 468.3,298.3 477.8,302.2 485.0,306.1 494.4,309.7 505.0,312.8 514.4,315.0 518.3,315.6 522.8,314.4 531.1,310.6 542.2,307.8 553.3,306.4 564.4,304.4 573.3,302.8 582.2,298.9 592.2,295.0 603.3,290.6 611.1,287.8 620.0,286.1 626.7,283.9 634.4,281.3"/>
<g shape-rendering="crispEdges">
<rect x="88" y="150" width="1" height="10" fill="#000"/>
<rect x="92" y="150" width="1" height="10" fill="#d40030"/>
<rect x="96" y="150" width="1" height="14" fill="#000"/>
<rect x="100" y="148" width="1" height="13" fill="#000"/>
<rect x="98" y="148" width="4" height="4" fill="#000"/>
<rect x="99" y="149" width="2" height="2" fill="#fff"/>
<rect x="104" y="141" width="1" height="11" fill="#000"/>
<rect x="102" y="144" width="4" height="8" fill="#000"/>
<rect x="103" y="145" width="2" height="6" fill="#fff"/>
<rect x="108" y="136" width="1" height="10" fill="#000"/>
<rect x="106" y="138" width="4" height="6" fill="#000"/>
<rect x="107" y="139" width="2" height="4" fill="#fff"/>
<rect x="112" y="132" width="1" height="5" fill="#000"/>
<rect x="110" y="134" width="4" height="3" fill="#000"/>
<rect x="111" y="135" width="2" height="1" fill="#fff"/>
<rect x="116" y="133" width="1" height="12" fill="#d40030"/>
<rect x="114" y="133" width="4" height="11" fill="#d40030"/>
<rect x="120" y="147" width="1" height="7" fill="#d40030"/>
<rect x="118" y="147" width="4" height="2" fill="#d40030"/>
<rect x="124" y="141" width="1" height="8" fill="#000"/>
<rect x="122" y="147" width="4" height="1" fill="#000"/>
<rect x="128" y="148" width="1" height="16" fill="#d40030"/>
<rect x="126" y="148" width="4" height="16" fill="#d40030"/>
<rect x="132" y="163" width="1" height="12" fill="#d40030"/>
<rect x="130" y="167" width="4" height="5" fill="#d40030"/>
<rect x="136" y="168" width="1" height="13" fill="#d40030"/>
<rect x="134" y="170" width="4" height="7" fill="#d40030"/>
<rect x="140" y="160" width="1" height="17" fill="#000"/>
<rect x="138" y="162" width="4" height="14" fill="#000"/>
<rect x="139" y="163" width="2" height="12" fill="#fff"/>
<rect x="144" y="154" width="1" height="13" fill="#000"/>
<rect x="142" y="157" width="4" height="4" fill="#000"/>
<rect x="143" y="158" width="2" height="2" fill="#fff"/>
<rect x="148" y="155" width="1" height="12" fill="#d40030"/>
<rect x="146" y="156" width="4" height="9" fill="#d40030"/>
<rect x="152" y="165" width="1" height="9" fill="#d40030"/>
<rect x="150" y="166" width="4" height="4" fill="#d40030"/>
<rect x="156" y="162" width="1" height="8" fill="#000"/>
<rect x="154" y="166" width="4" height="3" fill="#000"/>
<rect x="160" y="171" width="1" height="11" fill="#d40030"/>
<rect x="158" y="171" width="4" height="9" fill="#d40030"/>
<rect x="164" y="180" width="1" height="12" fill="#d40030"/>
<rect x="162" y="182" width="4" height="9" fill="#d40030"/>
<rect x="169" y="188" width="1" height="18" fill="#d40030"/>
<rect x="167" y="189" width="4" height="7" fill="#d40030"/>
<rect x="173" y="198" width="1" height="25" fill="#d40030"/>
<rect x="171" y="198" width="4" height="3" fill="#d40030"/>
<rect x="177" y="199" width="1" height="13" fill="#d40030"/>
<rect x="175" y="202" width="4" height="2" fill="#d40030"/>
<rect x="181" y="195" width="1" height="19" fill="#d40030"/>
<rect x="179" y="199" width="4" height="14" fill="#d40030"/>
<rect x="185" y="199" width="1" height="15" fill="#000"/>
<rect x="183" y="200" width="4" height="14" fill="#000"/>
<rect x="184" y="201" width="2" height="12" fill="#fff"/>
<rect x="189" y="195" width="1" height="12" fill="#d40030"/>
<rect x="187" y="200" width="4" height="3" fill="#d40030"/>
<rect x="193" y="190" width="1" height="13" fill="#000"/>
<rect x="191" y="200" width="4" height="1" fill="#000"/>
<rect x="197" y="204" width="1" height="15" fill="#d40030"/>
<rect x="195" y="204" width="4" height="14" fill="#d40030"/>
<rect x="201" y="211" width="1" height="21" fill="#d40030"/>
<rect x="199" y="219" width="4" height="11" fill="#d40030"/>
<rect x="205" y="223" width="1" height="20" fill="#000"/>
<rect x="203" y="224" width="4" height="8" fill="#000"/>
<rect x="204" y="225" width="2" height="6" fill="#fff"/>
<rect x="209" y="215" width="1" height="11" fill="#000"/>
<rect x="207" y="217" width="4" height="7" fill="#000"/>
<rect x="208" y="218" width="2" height="5" fill="#fff"/>
<rect x="213" y="205" width="1" height="21" fill="#000"/>
<rect x="211" y="208" width="4" height="11" fill="#000"/>
<rect x="212" y="209" width="2" height="9" fill="#fff"/>
<rect x="217" y="203" width="1" height="13" fill="#000"/>
<rect x="215" y="207" width="4" height="3" fill="#000"/>
<rect x="216" y="208" width="2" height="1" fill="#fff"/>
<rect x="221" y="202" width="1" height="15" fill="#000"/>
<rect x="219" y="203" width="4" height="7" fill="#000"/>
<rect x="220" y="204" width="2" height="5" fill="#fff"/>
<rect x="225" y="195" width="1" height="8" fill="#000"/>
<rect x="223" y="196" width="4" height="4" fill="#000"/>
<rect x="224" y="197" width="2" height="2" fill="#fff"/>
<rect x="229" y="191" width="1" height="8" fill="#000"/>
<rect x="227" y="191" width="4" height="3" fill="#000"/>
<rect x="228" y="192" width="2" height="1" fill="#fff"/>
<rect x="233" y="188" width="1" height="13" fill="#d40030"/>
<rect x="231" y="190" width="4" height="10" fill="#d40030"/>
<rect x="237" y="185" width="1" height="18" fill="#000"/>
<rect x="235" y="188" width="4" height="14" fill="#000"/>
<rect x="236" y="189" width="2" height="12" fill="#fff"/>
<rect x="241" y="186" width="1" height="14" fill="#d40030"/>
<rect x="239" y="187" width="4" height="6" fill="#d40030"/>
<rect x="245" y="185" width="1" height="15" fill="#000"/>
<rect x="243" y="186" width="4" height="9" fill="#000"/>
<rect x="244" y="187" width="2" height="7" fill="#fff"/>
<rect x="249" y="181" width="1" height="10" fill="#000"/>
<rect x="247" y="184" width="4" height="3" fill="#000"/>
<rect x="248" y="185" width="2" height="1" fill="#fff"/>
<rect x="253" y="186" width="1" height="11" fill="#d40030"/>
<rect x="251" y="187" width="4" height="6" fill="#d40030"/>
<rect x="257" y="183" width="1" height="12" fill="#d40030"/>
<rect x="255" y="190" width="4" height="4" fill="#d40030"/>
<rect x="261" y="193" width="1" height="11" fill="#d40030"/>
<rect x="259" y="197" width="4" height="5" fill="#d40030"/>
<rect x="265" y="200" width="1" height="11" fill="#d40030"/>
<rect x="263" y="201" width="4" height="8" fill="#d40030"/>
<rect x="269" y="204" width="1" height="11" fill="#d40030"/>
<rect x="267" y="208" width="4" height="5" fill="#d40030"/>
<rect x="273" y="209" width="1" height="12" fill="#d40030"/>
<rect x="271" y="212" width="4" height="6" fill="#d40030"/>
<rect x="277" y="200" width="1" height="14" fill="#000"/>
<rect x="275" y="206" width="4" height="8" fill="#000"/>
<rect x="276" y="207" width="2" height="6" fill="#fff"/>
<rect x="281" y="203" width="1" height="10" fill="#d40030"/>
<rect x="279" y="204" width="4" height="8" fill="#d40030"/>
<rect x="285" y="207" width="1" height="9" fill="#000"/>
<rect x="283" y="209" width="4" height="3" fill="#000"/>
<rect x="284" y="210" width="2" height="1" fill="#fff"/>
<rect x="289" y="203" width="1" height="12" fill="#d40030"/>
<rect x="287" y="207" width="4" height="6" fill="#d40030"/>
<rect x="293" y="207" width="1" height="14" fill="#d40030"/>
<rect x="291" y="213" width="4" height="8" fill="#d40030"/>
<rect x="297" y="211" width="1" height="10" fill="#000"/>
<rect x="295" y="212" width="4" height="5" fill="#000"/>
<rect x="296" y="213" width="2" height="3" fill="#fff"/>
<rect x="301" y="214" width="1" height="18" fill="#d40030"/>
<rect x="299" y="214" width="4" height="17" fill="#d40030"/>
<rect x="305" y="220" width="1" height="14" fill="#000"/>
<rect x="303" y="226" width="4" height="5" fill="#000"/>
<rect x="309" y="234" width="1" height="18" fill="#d40030"/>
<rect x="307" y="234" width="4" height="3" fill="#d40030"/>
<rect x="313" y="229" width="1" height="11" fill="#d40030"/>
<rect x="311" y="234" width="4" height="3" fill="#d40030"/>
<rect x="317" y="233" width="1" height="28" fill="#d40030"/>
<rect x="315" y="237" width="4" height="24" fill="#d40030"/>
<rect x="321" y="262" width="1" height="80" fill="#d40030"/>
<rect x="319" y="263" width="4" height="74" fill="#d40030"/>
<rect x="325" y="295" width="1" height="37" fill="#000"/>
<rect x="323" y="322" width="4" height="10" fill="#000"/>
<rect x="324" y="323" width="2" height="8" fill="#fff"/>
<rect x="329" y="302" width="1" height="56" fill="#d40030"/>
<rect x="327" y="320" width="4" height="38" fill="#d40030"/>
<rect x="333" y="312" width="1" height="71" fill="#000"/>
<rect x="331" y="327" width="4" height="34" fill="#000"/>
<rect x="332" y="328" width="2" height="32" fill="#fff"/>
<rect x="337" y="297" width="1" height="40" fill="#000"/>
<rect x="335" y="322" width="4" height="5" fill="#000"/>
<rect x="341" y="310" width="1" height="31" fill="#d40030"/>
<rect x="339" y="322" width="4" height="9" fill="#d40030"/>
<rect x="345" y="320" width="1" height="47" fill="#d40030"/>
<rect x="343" y="333" width="4" height="16" fill="#d40030"/>
<rect x="349" y="328" width="1" height="16" fill="#000"/>
<rect x="347" y="328" width="4" height="16" fill="#000"/>
<rect x="348" y="329" width="2" height="14" fill="#fff"/>
<rect x="353" y="330" width="1" height="21" fill="#d40030"/>
<rect x="351" y="330" width="4" height="19" fill="#d40030"/>
<rect x="357" y="321" width="1" height="25" fill="#000"/>
<rect x="355" y="338" width="4" height="8" fill="#000"/>
<rect x="356" y="339" width="2" height="6" fill="#fff"/>
<rect x="361" y="321" width="1" height="12" fill="#000"/>
<rect x="359" y="326" width="4" height="7" fill="#000"/>
<rect x="360" y="327" width="2" height="5" fill="#fff"/>
<rect x="365" y="320" width="1" height="10" fill="#000"/>
<rect x="363" y="322" width="4" height="3" fill="#000"/>
<rect x="364" y="323" width="2" height="1" fill="#fff"/>
<rect x="369" y="317" width="1" height="8" fill="#000"/>
<rect x="367" y="317" width="4" height="5" fill="#000"/>
<rect x="368" y="318" width="2" height="3" fill="#fff"/>
<rect x="373" y="303" width="1" height="18" fill="#d40030"/>
<rect x="371" y="313" width="4" height="6" fill="#d40030"/>
<rect x="377" y="321" width="1" height="25" fill="#d40030"/>
<rect x="375" y="321" width="4" height="17" fill="#d40030"/>
<rect x="381" y="333" width="1" height="22" fill="#d40030"/>
<rect x="379" y="334" width="4" height="21" fill="#d40030"/>
<rect x="385" y="335" width="1" height="22" fill="#000"/>
<rect x="383" y="346" width="4" height="10" fill="#000"/>
<rect x="384" y="347" width="2" height="8" fill="#fff"/>
<rect x="389" y="339" width="1" height="14" fill="#000"/>
<rect x="387" y="342" width="4" height="6" fill="#000"/>
<rect x="388" y="343" width="2" height="4" fill="#fff"/>
<rect x="393" y="336" width="1" height="21" fill="#d40030"/>
<rect x="391" y="339" width="4" height="15" fill="#d40030"/>
<rect x="397" y="352" width="1" height="15" fill="#d40030"/>
<rect x="395" y="354" width="4" height="13" fill="#d40030"/>
<rect x="401" y="359" width="1" height="17" fill="#000"/>
<rect x="399" y="360" width="4" height="9" fill="#000"/>
<rect x="400" y="361" width="2" height="7" fill="#fff"/>
<rect x="405" y="361" width="1" height="18" fill="#d40030"/>
<rect x="403" y="364" width="4" height="12" fill="#d40030"/>
<rect x="409" y="360" width="1" height="21" fill="#000"/>
<rect x="407" y="360" width="4" height="14" fill="#000"/>
<rect x="408" y="361" width="2" height="12" fill="#fff"/>
<rect x="413" y="343" width="1" height="15" fill="#000"/>
<rect x="411" y="347" width="4" height="11" fill="#000"/>
<rect x="412" y="348" width="2" height="9" fill="#fff"/>
<rect x="417" y="318" width="1" height="30" fill="#000"/>
<rect x="415" y="324" width="4" height="24" fill="#000"/>
<rect x="416" y="325" width="2" height="22" fill="#fff"/>
<rect x="421" y="316" width="1" height="17" fill="#000"/>
<rect x="419" y="322" width="4" height="4" fill="#000"/>
<rect x="420" y="323" width="2" height="2" fill="#fff"/>
<rect x="425" y="311" width="1" height="17" fill="#000"/>
<rect x="423" y="314" width="4" height="3" fill="#000"/>
<rect x="424" y="315" width="2" height="1" fill="#fff"/>
<rect x="429" y="312" width="1" height="12" fill="#d40030"/>
<rect x="427" y="315" width="4" height="2" fill="#d40030"/>
<rect x="433" y="315" width="1" height="11" fill="#d40030"/>
<rect x="431" y="316" width="4" height="7" fill="#d40030"/>
<rect x="437" y="312" width="1" height="19" fill="#000"/>
<rect x="435" y="314" width="4" height="5" fill="#000"/>
<rect x="436" y="315" width="2" height="3" fill="#fff"/>
<rect x="441" y="299" width="1" height="11" fill="#000"/>
<rect x="439" y="300" width="4" height="10" fill="#000"/>
<rect x="440" y="301" width="2" height="8" fill="#fff"/>
<rect x="445" y="298" width="1" height="14" fill="#d40030"/>
<rect x="443" y="299" width="4" height="7" fill="#d40030"/>
<rect x="449" y="301" width="1" height="13" fill="#d40030"/>
<rect x="447" y="306" width="4" height="2" fill="#d40030"/>
<rect x="453" y="297" width="1" height="10" fill="#000"/>
<rect x="451" y="297" width="4" height="9" fill="#000"/>
<rect x="452" y="298" width="2" height="7" fill="#fff"/>
<rect x="457" y="290" width="1" height="8" fill="#000"/>
<rect x="455" y="292" width="4" height="6" fill="#000"/>
<rect x="456" y="293" width="2" height="4" fill="#fff"/>
<rect x="461" y="281" width="1" height="11" fill="#000"/>
<rect x="459" y="281" width="4" height="8" fill="#000"/>
<rect x="460" y="282" width="2" height="6" fill="#fff"/>
<rect x="465" y="281" width="1" height="14" fill="#d40030"/>
<rect x="463" y="281" width="4" height="10" fill="#d40030"/>
<rect x="469" y="287" width="1" height="11" fill="#000"/>
<rect x="467" y="287" width="4" height="3" fill="#000"/>
<rect x="468" y="288" width="2" height="1" fill="#fff"/>
<rect x="473" y="282" width="1" height="12" fill="#d40030"/>
<rect x="471" y="288" width="4" height="2" fill="#d40030"/>
<rect x="477" y="290" width="1" height="16" fill="#d40030"/>
<rect x="475" y="291" width="4" height="14" fill="#d40030"/>
<rect x="482" y="298" width="1" height="14" fill="#000"/>
<rect x="480" y="302" width="4" height="4" fill="#000"/>
<rect x="481" y="303" width="2" height="2" fill="#fff"/>
<rect x="486" y="285" width="1" height="13" fill="#000"/>
<rect x="484" y="286" width="4" height="12" fill="#000"/>
<rect x="485" y="287" width="2" height="10" fill="#fff"/>
<rect x="490" y="276" width="1" height="8" fill="#000"/>
<rect x="488" y="276" width="4" height="8" fill="#000"/>
<rect x="489" y="277" width="2" height="6" fill="#fff"/>
<rect x="494" y="271" width="1" height="7" fill="#000"/>
<rect x="492" y="273" width="4" height="3" fill="#000"/>
<rect x="493" y="274" width="2" height="1" fill="#fff"/>
<rect x="498" y="267" width="1" height="6" fill="#000"/>
<rect x="496" y="268" width="4" height="3" fill="#000"/>
<rect x="497" y="269" width="2" height="1" fill="#fff"/>
<rect x="502" y="270" width="1" height="11" fill="#d40030"/>
<rect x="500" y="270" width="4" height="9" fill="#d40030"/>
<rect x="506" y="266" width="1" height="8" fill="#000"/>
<rect x="504" y="271" width="4" height="3" fill="#000"/>
<rect x="505" y="272" width="2" height="1" fill="#fff"/>
<rect x="510" y="264" width="1" height="17" fill="#d40030"/>
<rect x="508" y="268" width="4" height="12" fill="#d40030"/>
<rect x="514" y="270" width="1" height="8" fill="#000"/>
<rect x="512" y="273" width="4" height="4" fill="#000"/>
<rect x="513" y="274" width="2" height="2" fill="#fff"/>
<rect x="518" y="272" width="1" height="9" fill="#d40030"/>
<rect x="516" y="274" width="4" height="2" fill="#d40030"/>
<rect x="522" y="269" width="1" height="10" fill="#d40030"/>
<rect x="520" y="273" width="4" height="5" fill="#d40030"/>
<rect x="526" y="280" width="1" height="13" fill="#d40030"/>
<rect x="524" y="280" width="4" height="13" fill="#d40030"/>
<rect x="530" y="284" width="1" height="11" fill="#000"/>
<rect x="528" y="284" width="4" height="8" fill="#000"/>
<rect x="529" y="285" width="2" height="6" fill="#fff"/>
<rect x="534" y="276" width="1" height="9" fill="#000"/>
<rect x="532" y="277" width="4" height="6" fill="#000"/>
<rect x="533" y="278" width="2" height="4" fill="#fff"/>
<rect x="538" y="274" width="1" height="8" fill="#000"/>
<rect x="536" y="278" width="4" height="3" fill="#000"/>
<rect x="537" y="279" width="2" height="1" fill="#fff"/>
<rect x="542" y="273" width="1" height="16" fill="#d40030"/>
<rect x="540" y="277" width="4" height="7" fill="#d40030"/>
<rect x="546" y="287" width="1" height="7" fill="#d40030"/>
<rect x="544" y="287" width="4" height="4" fill="#d40030"/>
<rect x="550" y="285" width="1" height="8" fill="#d40030"/>
<rect x="548" y="290" width="4" height="2" fill="#d40030"/>
<rect x="554" y="288" width="1" height="13" fill="#d40030"/>
<rect x="552" y="290" width="4" height="9" fill="#d40030"/>
<rect x="558" y="298" width="1" height="14" fill="#d40030"/>
<rect x="556" y="298" width="4" height="13" fill="#d40030"/>
<rect x="562" y="284" width="1" height="25" fill="#000"/>
<rect x="560" y="284" width="4" height="24" fill="#000"/>
<rect x="561" y="285" width="2" height="22" fill="#fff"/>
<rect x="566" y="279" width="1" height="11" fill="#000"/>
<rect x="564" y="281" width="4" height="1" fill="#000"/>
<rect x="570" y="277" width="1" height="8" fill="#000"/>
<rect x="568" y="280" width="4" height="2" fill="#000"/>
<rect x="574" y="268" width="1" height="11" fill="#000"/>
<rect x="572" y="271" width="4" height="8" fill="#000"/>
<rect x="573" y="272" width="2" height="6" fill="#fff"/>
<rect x="578" y="265" width="1" height="5" fill="#000"/>
<rect x="576" y="269" width="4" height="1" fill="#000"/>
<rect x="582" y="263" width="1" height="6" fill="#000"/>
<rect x="580" y="263" width="4" height="6" fill="#000"/>
<rect x="581" y="264" width="2" height="4" fill="#fff"/>
<rect x="586" y="259" width="1" height="7" fill="#000"/>
<rect x="584" y="259" width="4" height="6" fill="#000"/>
<rect x="585" y="260" width="2" height="4" fill="#fff"/>
<rect x="590" y="261" width="1" height="10" fill="#d40030"/>
<rect x="588" y="261" width="4" height="8" fill="#d40030"/>
<rect x="594" y="269" width="1" height="11" fill="#d40030"/>
<rect x="592" y="272" width="4" height="8" fill="#d40030"/>
<rect x="598" y="273" width="1" height="11" fill="#d40030"/>
<rect x="596" y="278" width="4" height="6" fill="#d40030"/>
<rect x="602" y="281" width="1" height="8" fill="#000"/>
<rect x="600" y="282" width="4" height="3" fill="#000"/>
<rect x="601" y="283" width="2" height="1" fill="#fff"/>
<rect x="606" y="275" width="1" height="10" fill="#000"/>
<rect x="604" y="275" width="4" height="7" fill="#000"/>
<rect x="605" y="276" width="2" height="5" fill="#fff"/>
<rect x="610" y="272" width="1" height="11" fill="#000"/>
<rect x="608" y="275" width="4" height="7" fill="#000"/>
<rect x="614" y="275" width="1" height="7" fill="#000"/>
<rect x="612" y="275" width="4" height="7" fill="#000"/>
<rect x="613" y="276" width="2" height="5" fill="#fff"/>
<rect x="618" y="265" width="1" height="6" fill="#000"/>
<rect x="616" y="265" width="4" height="6" fill="#000"/>
<rect x="617" y="266" width="2" height="4" fill="#fff"/>
<rect x="622" y="262" width="1" height="4" fill="#000"/>
<rect x="620" y="263" width="4" height="1" fill="#000"/>
<rect x="626" y="258" width="1" height="7" fill="#000"/>
<rect x="624" y="258" width="4" height="6" fill="#000"/>
<rect x="625" y="259" width="2" height="4" fill="#fff"/>
<rect x="630" y="250" width="1" height="12" fill="#000"/>
<rect x="628" y="251" width="4" height="10" fill="#000"/>
<rect x="629" y="252" width="2" height="8" fill="#fff"/>
<rect x="634" y="248" width="1" height="7" fill="#d40030"/>
<rect x="632" y="249" width="4" height="6" fill="#d40030"/>
</g>
<rect x="78.2" y="168.8" width="3.8" height="1.2" fill="#d40030"/>
<path d="M82.25 158 V165.2 H85.55 V158" fill="none" stroke="#000" stroke-width="1.1"/>
<rect x="7" y="169" width="1.2" height="1" fill="#1a6e1a"/>
<rect x="7.2" y="114.2" width="158.5" height="12.6" fill="#fff"/>
<rect x="7.2" y="114.2" width="93" height="45" fill="#fff"/>
<rect x="7.2" y="159" width="73.3" height="10" fill="#fff"/>
<g stroke="#000" fill="none" stroke-width="1"><path d="M10.2 116.5 V125.5 M13.8 117.5 V124.5 M16.3 116.8 V125.5"/><rect x="9.2" y="118" width="2" height="4.5" fill="#fff"/><rect x="12.6" y="119.2" width="2.4" height="4" fill="#000"/><rect x="15.6" y="118" width="1.6" height="5.5" fill="#fff"/></g>
<text class="lg" x="21.6" y="124.4" font-size="8.9" textLength="143.6" lengthAdjust="spacingAndGlyphs" fill="#000">$NIKK (Weekly) 11168.20</text>
<path d="M9 132.0 H17.6" stroke="#00008b" stroke-width="1.8"/>
<text class="lg" x="19.6" y="135.4" font-size="8.3" textLength="73.2" lengthAdjust="spacingAndGlyphs" fill="#00008b" stroke="#00008b" stroke-width="0.12">MA(50) 10119.61</text>
<path d="M9 142.7 H17.6" stroke="#f00000" stroke-width="1.8"/>
<text class="lg" x="19.6" y="146.1" font-size="8.3" textLength="78.7" lengthAdjust="spacingAndGlyphs" fill="#f00000" stroke="#f00000" stroke-width="0.12">MA(200) 13106.60</text>
<path d="M9 153.5 H17.6" stroke="#006400" stroke-width="1.8"/>
<text class="lg" x="19.6" y="156.9" font-size="8.3" textLength="79.5" lengthAdjust="spacingAndGlyphs" fill="#006400" stroke="#006400" stroke-width="0.12">MA(100) 10204.14</text>
<path d="M9.1 166.8 V162.3 H11.1 V166.8 Z M11.8 166.8 V160.2 H14.4 V166.8 Z M15.1 166.8 V161.3 H17.3 V166.8 Z" fill="#5a5a5a"/>
<text class="lg" x="19.8" y="167.4" font-size="8.5" textLength="60.5" lengthAdjust="spacingAndGlyphs" fill="#555">Volume undef</text>
<g fill="#5ba5d1" stroke="#2a6cab" stroke-width="1" shape-rendering="crispEdges">
<rect x="7.2" y="427.5" width="3.8" height="2.2"/>
<rect x="11.0" y="427.5" width="3.8" height="2.2"/>
<rect x="14.8" y="427.5" width="3.8" height="2.2"/>
<rect x="18.6" y="427.5" width="3.8" height="2.2"/>
<rect x="22.4" y="427.5" width="3.8" height="2.2"/>
<rect x="26.2" y="427.5" width="3.8" height="2.2"/>
<rect x="30.0" y="427.5" width="3.8" height="2.2"/>
<path d="M33.8 427.5 H46.5" fill="none"/>
<rect x="46.5" y="426.3" width="3.8" height="1.2"/>
<rect x="50.3" y="425.5" width="4.0" height="2.0"/>
<rect x="54.3" y="425.5" width="4.0" height="2.0"/>
<rect x="58.3" y="425.5" width="4.0" height="2.0"/>
<rect x="62.3" y="426.3" width="3.8" height="1.2"/>
<rect x="66.0" y="427.5" width="4.2" height="2.2"/>
<rect x="70.2" y="427.5" width="4.2" height="4.3"/>
<rect x="74.4" y="427.5" width="4.1" height="7.3"/>
<rect x="78.5" y="427.5" width="4.1" height="12.3"/>
<rect x="82.5" y="427.5" width="4.2" height="11.8"/>
<rect x="86.8" y="427.5" width="4.1" height="11.2"/>
<rect x="90.8" y="427.5" width="4.2" height="10.0"/>
<rect x="95.0" y="427.5" width="4.1" height="9.3"/>
<rect x="99.1" y="427.5" width="4.2" height="6.3"/>
<rect x="103.3" y="427.5" width="4.1" height="4.3"/>
<rect x="107.3" y="427.5" width="4.2" height="1.8"/>
<path d="M111.5 427.5 H115.6" fill="none"/>
<rect x="115.6" y="426.3" width="3.0" height="1.2"/>
<path d="M118.6 427.5 H126.8" fill="none"/>
<rect x="126.8" y="427.5" width="3.8" height="2.8"/>
<rect x="130.6" y="427.5" width="4.2" height="5.2"/>
<rect x="134.8" y="427.5" width="4.1" height="7.8"/>
<rect x="138.8" y="427.5" width="4.2" height="5.5"/>
<rect x="143.0" y="427.5" width="4.1" height="3.7"/>
<rect x="147.1" y="427.5" width="4.2" height="3.7"/>
<rect x="151.3" y="427.5" width="4.1" height="2.8"/>
<rect x="155.3" y="427.5" width="4.2" height="2.8"/>
<rect x="159.5" y="427.5" width="4.1" height="4.8"/>
<rect x="163.6" y="427.5" width="2.6" height="7.0"/>
<rect x="166.0" y="427.5" width="1.5" height="7.3"/>
<rect x="167.5" y="427.5" width="4.2" height="8.2"/>
<rect x="171.7" y="427.5" width="4.1" height="8.8"/>
<rect x="175.8" y="427.5" width="4.2" height="9.3"/>
<rect x="180.0" y="427.5" width="4.1" height="10.0"/>
<rect x="184.0" y="427.5" width="4.2" height="7.8"/>
<rect x="188.2" y="427.5" width="4.1" height="5.5"/>
<rect x="192.3" y="427.5" width="4.2" height="3.7"/>
<rect x="196.5" y="427.5" width="4.1" height="4.8"/>
<rect x="200.5" y="427.5" width="4.2" height="5.5"/>
<rect x="204.7" y="427.5" width="2.7" height="5.5"/>
<rect x="207.4" y="427.5" width="4.1" height="3.7"/>
<rect x="211.5" y="427.5" width="4.1" height="1.0"/>
<rect x="215.5" y="425.5" width="4.2" height="2.0"/>
<rect x="219.7" y="423.3" width="4.1" height="4.2"/>
<rect x="223.8" y="420.7" width="4.2" height="6.8"/>
<rect x="228.0" y="418.8" width="4.1" height="8.7"/>
<rect x="232.0" y="418.5" width="4.2" height="9.0"/>
<rect x="236.2" y="417.4" width="4.0" height="10.1"/>
<rect x="240.2" y="417.4" width="4.0" height="10.1"/>
<rect x="244.2" y="417.4" width="4.0" height="10.1"/>
<rect x="248.1" y="417.4" width="4.0" height="10.1"/>
<rect x="252.1" y="417.4" width="4.0" height="10.1"/>
<rect x="256.1" y="418.8" width="4.2" height="8.7"/>
<rect x="260.3" y="421.3" width="4.1" height="6.2"/>
<rect x="264.3" y="423.7" width="4.2" height="3.8"/>
<rect x="268.5" y="425.5" width="3.3" height="2.0"/>
<path d="M271.8 427.5 H291.3" fill="none"/>
<path d="M291.3 427.5 H295.1" fill="none"/>
<rect x="295.1" y="427.5" width="4.5" height="1.0"/>
<rect x="299.6" y="427.5" width="3.8" height="2.2"/>
<rect x="303.3" y="427.5" width="3.8" height="3.3"/>
<rect x="307.1" y="427.5" width="4.2" height="4.0"/>
<rect x="311.3" y="427.5" width="4.1" height="4.8"/>
<rect x="315.3" y="427.5" width="3.8" height="7.0"/>
<rect x="319.1" y="427.5" width="4.2" height="15.7"/>
<rect x="323.3" y="427.5" width="4.1" height="19.0"/>
<rect x="327.3" y="427.5" width="4.8" height="22.9"/>
<rect x="332.0" y="427.5" width="3.0" height="20.8"/>
<rect x="335.0" y="427.5" width="4.2" height="18.3"/>
<rect x="339.2" y="427.5" width="4.2" height="16.0"/>
<rect x="343.4" y="427.5" width="4.1" height="14.2"/>
<rect x="347.5" y="427.5" width="4.2" height="11.2"/>
<rect x="351.7" y="427.5" width="4.1" height="8.8"/>
<rect x="355.7" y="427.5" width="4.2" height="5.8"/>
<rect x="359.9" y="427.5" width="3.6" height="1.8"/>
<rect x="363.5" y="426.6" width="4.1" height="0.9"/>
<rect x="367.6" y="423.7" width="3.8" height="3.8"/>
<rect x="371.3" y="421.5" width="4.1" height="6.0"/>
<rect x="375.5" y="421.5" width="4.1" height="6.0"/>
<rect x="379.6" y="422.5" width="4.1" height="5.0"/>
<rect x="383.6" y="422.5" width="4.1" height="5.0"/>
<rect x="387.7" y="422.5" width="4.1" height="5.0"/>
<rect x="391.7" y="422.5" width="4.1" height="5.0"/>
<rect x="395.8" y="423.6" width="4.0" height="3.9"/>
<rect x="399.8" y="423.6" width="4.0" height="3.9"/>
<rect x="403.7" y="424.8" width="4.1" height="2.7"/>
<rect x="407.8" y="423.6" width="3.8" height="3.9"/>
<rect x="411.5" y="421.5" width="3.9" height="6.0"/>
<rect x="415.5" y="418.5" width="4.1" height="9.0"/>
<rect x="419.5" y="416.5" width="4.1" height="11.0"/>
<rect x="423.6" y="414.3" width="4.1" height="13.2"/>
<rect x="427.6" y="413.5" width="4.2" height="14.0"/>
<rect x="431.8" y="414.7" width="3.9" height="12.8"/>
<rect x="435.7" y="414.7" width="3.9" height="12.8"/>
<rect x="439.6" y="413.5" width="4.2" height="14.0"/>
<rect x="443.8" y="414.3" width="3.8" height="13.2"/>
<rect x="447.6" y="414.7" width="4.1" height="12.8"/>
<rect x="451.6" y="415.3" width="4.0" height="12.2"/>
<rect x="455.6" y="415.3" width="4.0" height="12.2"/>
<rect x="459.6" y="414.3" width="4.2" height="13.2"/>
<rect x="463.8" y="415.3" width="4.1" height="12.2"/>
<rect x="467.8" y="417.3" width="4.1" height="10.2"/>
<rect x="471.9" y="419.2" width="4.2" height="8.3"/>
<rect x="476.1" y="421.5" width="4.2" height="6.0"/>
<rect x="480.3" y="423.6" width="4.1" height="3.9"/>
<rect x="484.3" y="422.5" width="3.8" height="5.0"/>
<rect x="488.1" y="421.5" width="3.4" height="6.0"/>
<rect x="491.4" y="421.5" width="3.4" height="6.0"/>
<rect x="494.8" y="421.5" width="3.4" height="6.0"/>
<rect x="498.0" y="421.5" width="2.3" height="6.0"/>
<rect x="500.3" y="422.2" width="4.2" height="5.3"/>
<rect x="504.5" y="422.5" width="4.1" height="5.0"/>
<rect x="508.5" y="424.0" width="4.2" height="3.5"/>
<rect x="512.7" y="425.2" width="4.1" height="2.3"/>
<rect x="516.8" y="426.3" width="3.3" height="1.2"/>
<rect x="520.0" y="425.6" width="4.4" height="1.9"/>
<rect x="524.4" y="427.5" width="3.9" height="0.8"/>
<rect x="528.3" y="427.5" width="3.9" height="1.9"/>
<rect x="532.2" y="427.5" width="3.9" height="1.9"/>
<rect x="536.1" y="427.5" width="3.9" height="1.9"/>
<rect x="540.0" y="427.5" width="3.9" height="1.9"/>
<rect x="543.9" y="427.5" width="4.4" height="3.1"/>
<rect x="548.3" y="427.5" width="3.9" height="4.2"/>
<rect x="552.2" y="427.5" width="3.9" height="5.3"/>
<rect x="556.1" y="427.5" width="4.1" height="7.2"/>
<rect x="560.2" y="427.5" width="4.2" height="4.2"/>
<rect x="564.4" y="427.5" width="3.9" height="2.7"/>
<rect x="568.3" y="427.5" width="3.9" height="1.6"/>
<path d="M572.2 427.5 H576.1" fill="none"/>
<rect x="576.1" y="426.1" width="4.4" height="1.4"/>
<rect x="580.6" y="424.7" width="3.9" height="2.8"/>
<rect x="584.4" y="423.3" width="3.9" height="4.2"/>
<rect x="588.3" y="424.7" width="3.9" height="2.8"/>
<rect x="592.2" y="425.8" width="4.4" height="1.7"/>
<path d="M596.7 427.5 H600.0" fill="none"/>
<rect x="600.0" y="427.5" width="4.4" height="0.8"/>
<rect x="604.4" y="427.5" width="3.9" height="1.9"/>
<rect x="608.3" y="427.5" width="3.9" height="1.9"/>
<rect x="612.2" y="427.5" width="3.9" height="0.8"/>
<path d="M616.1 427.5 H620.0" fill="none"/>
<rect x="620.0" y="426.4" width="4.4" height="1.1"/>
<rect x="624.4" y="425.8" width="3.9" height="1.7"/>
<rect x="628.3" y="423.3" width="4.2" height="4.2"/>
<rect x="632.5" y="423.3" width="4.2" height="4.2"/>
</g>
<polyline fill="none" stroke="#f01010" stroke-width="1.1" stroke-linejoin="round" points="75.0,417.3 79.2,419.8 83.5,423.3 87.7,426.3 91.9,428.5 96.1,431.5 100.3,433.5 104.3,434.5 108.5,435.6 112.6,435.6 116.8,435.3 121.0,434.8 125.0,435.3 129.2,435.6 133.4,437.5 137.5,439.0 141.7,440.2 145.9,441.6 149.9,442.6 154.1,443.5 158.2,444.6 162.4,446.5 166.0,448.0 170.2,450.3 174.3,453.3 178.5,455.8 182.5,457.8 186.7,459.7 190.8,461.1 195.0,462.3 199.0,463.8 203.2,465.0 207.3,466.0 211.5,466.8 215.5,466.9 219.7,466.0 223.8,464.5 228.0,462.7 232.0,460.8 236.2,457.8 240.4,455.2 244.5,452.5 248.7,449.5 252.8,446.8 257.0,444.3 261.2,442.6 265.2,441.7 269.6,441.4 274.1,441.4 278.6,441.4 284.6,441.4 289.8,441.4 295.1,441.7 301.1,442.3 305.6,443.2 310.8,444.3 314.6,445.8 318.3,448.0 322.1,452.5 325.8,457.8 329.6,463.0 332.0,465.3 336.2,471.3 340.3,475.8 344.5,479.5 348.5,482.5 352.7,484.5 356.8,485.5 361.0,486.3 365.0,486.6 369.2,485.5 373.3,483.3 377.5,481.3 381.5,480.3 385.7,479.2 389.8,478.0 394.0,477.0 398.0,476.1 402.2,475.0 406.4,474.0 410.5,472.8 414.7,470.5 418.8,468.0 423.0,464.8 427.2,461.8 431.2,458.5 435.6,454.8 439.6,451.3 443.8,447.3 447.9,443.8 452.1,440.8 456.3,437.5 460.3,434.5 464.5,431.5 468.6,428.5 472.8,426.3 476.8,425.5 481.0,424.5 485.1,423.0 489.3,421.8 493.5,420.3 498.0,418.0 502.5,416.8 507.0,415.3 511.5,415.0 516.0,414.0 520.5,413.2 525.0,413.8 529.5,414.3 534.0,414.7 538.5,415.3 543.0,415.8 547.5,416.8 552.0,418.0 556.5,419.8 561.0,421.3 565.5,422.2 570.0,422.5 574.5,422.2 579.0,421.8 583.6,421.3 588.1,420.7 592.6,419.8 597.1,419.5 601.6,420.0 606.1,420.7 610.6,421.5 615.1,421.8 619.6,421.5 624.1,421.0 628.6,419.8 634.3,418.3"/>
<polyline fill="none" stroke="#000" stroke-width="1.65" stroke-linejoin="round" points="68.3,417.3 75.0,424.0 79.2,431.5 83.5,434.5 87.7,436.6 91.9,439.6 96.1,440.7 100.3,441.7 104.3,439.6 108.5,437.5 112.6,434.5 116.8,434.5 121.0,434.5 125.0,436.0 129.2,439.8 133.4,444.3 136.6,447.4 141.7,447.4 145.9,446.5 149.9,446.8 154.1,448.0 158.2,449.8 162.4,453.0 166.0,455.2 170.2,458.2 174.3,461.5 178.5,464.5 181.0,466.3 185.5,466.3 189.3,466.0 193.0,465.3 196.8,467.5 201.3,470.5 205.3,471.3 209.5,470.2 213.7,467.5 217.8,464.2 222.3,460.8 226.0,456.3 230.2,451.8 234.3,448.8 238.5,445.0 242.5,442.3 246.7,439.3 250.1,436.9 254.6,436.3 257.6,435.4 262.1,436.3 265.8,437.8 270.0,439.8 274.1,441.4 278.6,441.4 284.6,441.4 289.8,441.4 293.6,443.2 297.3,442.3 301.1,445.0 305.6,446.5 309.3,449.2 313.8,450.7 316.8,454.0 319.1,460.0 322.1,467.5 325.8,476.5 329.6,484.8 332.0,487.4 335.0,489.3 339.5,490.8 342.5,492.3 345.5,494.1 349.3,492.6 353.0,493.4 356.8,491.6 361.3,488.3 365.0,484.0 369.5,479.5 374.0,476.5 377.8,475.3 381.5,476.1 385.3,474.3 389.0,472.5 393.5,472.3 398.0,472.0 401.8,471.3 405.5,471.3 409.3,469.5 413.0,466.8 416.8,461.5 421.3,455.5 425.8,449.5 430.3,445.3 434.8,442.0 439.3,438.3 443.8,434.5 448.3,431.8 452.8,428.5 457.3,425.2 461.8,421.3 466.3,419.8 470.1,418.0 473.8,417.7 477.6,419.1 482.1,419.2 485.8,418.0 489.6,416.5 494.1,414.3 498.0,412.8 502.5,411.3 507.0,411.0 511.5,411.0 517.5,411.0 522.0,412.3 526.5,415.5 531.0,416.2 535.5,416.2 540.0,416.5 544.5,418.5 549.8,421.5 554.3,424.0 558.5,426.7 562.5,425.8 567.0,424.8 571.5,423.3 576.0,421.8 580.5,419.5 585.1,417.6 589.6,416.5 594.1,418.0 598.6,420.0 603.1,421.8 607.6,422.8 611.3,423.3 616.6,421.8 621.1,420.7 625.6,418.8 630.1,416.5 634.3,415.3"/>
<rect x="7.2" y="406.2" width="249.5" height="10.8" fill="#fff"/>
<path d="M9 411.2 H17.5" stroke="#000" stroke-width="2"/>
<path d="M20 417.5 H41" stroke="#222" stroke-width="0.6" fill="none"/><path d="M26.5 417.7 Q31 418.6 35.5 417.7" stroke="#000" stroke-width="1.2" fill="none"/>
<text class="lg" x="21.7" y="415.1" font-size="8.9" fill="#000" textLength="133.1" lengthAdjust="spacingAndGlyphs">MACD(12,26,9) 274.197</text>
<text class="lg" x="156.2" y="415.1" font-size="8.9" fill="#f00000" textLength="52.8" lengthAdjust="spacingAndGlyphs">, 191.987</text>
<text class="lg" x="210.9" y="415.1" font-size="8.9" fill="#3a8fd0" textLength="44.7" lengthAdjust="spacingAndGlyphs">, 82.211</text>
<g font-family="Liberation Sans, sans-serif" fill="#000" stroke="#000" stroke-width="0.16">
<text x="643.8" y="34.5" font-size="9.2" textLength="11.3" lengthAdjust="spacingAndGlyphs">90</text>
<text x="643.8" y="51.1" font-size="9.2" textLength="11.3" lengthAdjust="spacingAndGlyphs">70</text>
<text x="643.8" y="67.6" font-size="9.2" textLength="11.3" lengthAdjust="spacingAndGlyphs">50</text>
<text x="643.8" y="84.2" font-size="9.2" textLength="11.3" lengthAdjust="spacingAndGlyphs">30</text>
<text x="643.8" y="100.7" font-size="9.2" textLength="11.3" lengthAdjust="spacingAndGlyphs">10</text>
<text x="655.1" y="127.9" font-size="9.2" textLength="19.1" lengthAdjust="spacingAndGlyphs">18K</text>
<text x="655.1" y="143.4" font-size="9.2" textLength="19.1" lengthAdjust="spacingAndGlyphs">17K</text>
<text x="655.1" y="159.9" font-size="9.2" textLength="19.1" lengthAdjust="spacingAndGlyphs">16K</text>
<text x="655.1" y="177.5" font-size="9.2" textLength="19.1" lengthAdjust="spacingAndGlyphs">15K</text>
<text x="644.7" y="196.2" font-size="9.2" textLength="28.1" lengthAdjust="spacingAndGlyphs">14000</text>
<text x="644.7" y="216.3" font-size="9.2" textLength="28.1" lengthAdjust="spacingAndGlyphs">13000</text>
<text x="644.7" y="238.1" font-size="9.2" textLength="28.1" lengthAdjust="spacingAndGlyphs">12000</text>
<text x="644.7" y="261.8" font-size="9.2" textLength="28.1" lengthAdjust="spacingAndGlyphs">11000</text>
<text x="644.7" y="287.7" font-size="9.2" textLength="28.1" lengthAdjust="spacingAndGlyphs">10000</text>
<text x="650.3" y="316.3" font-size="9.2" textLength="22.5" lengthAdjust="spacingAndGlyphs">9000</text>
<text x="650.3" y="348.3" font-size="9.2" textLength="22.5" lengthAdjust="spacingAndGlyphs">8000</text>
<text x="650.3" y="384.6" font-size="9.2" textLength="22.5" lengthAdjust="spacingAndGlyphs">7000</text>
<text x="664.6" y="430.9" font-size="9.2" textLength="5.6" lengthAdjust="spacingAndGlyphs">0</text>
<text x="649.9" y="452.9" font-size="9.2" textLength="20.3" lengthAdjust="spacingAndGlyphs">-500</text>
<text x="644.3" y="475.9" font-size="9.2" textLength="25.9" lengthAdjust="spacingAndGlyphs">-1000</text>
<text x="644.3" y="498.9" font-size="9.2" textLength="25.9" lengthAdjust="spacingAndGlyphs">-1500</text>
</g>
<g font-family="Liberation Sans, sans-serif" font-size="9.5" fill="#000" text-anchor="middle" stroke="#000" stroke-width="0.15">
<text x="24.5" y="400.6">M</text>
<text x="24.5" y="511.6">M</text>
<text x="40.5" y="400.6">J</text>
<text x="40.5" y="511.6">J</text>
<text x="56.5" y="400.6">J</text>
<text x="56.5" y="511.6">J</text>
<text x="76.5" y="400.6">A</text>
<text x="76.5" y="511.6">A</text>
<text x="92.5" y="400.6">S</text>
<text x="92.5" y="511.6">S</text>
<text x="108.5" y="400.6">O</text>
<text x="108.5" y="511.6">O</text>
<text x="128.5" y="400.6">N</text>
<text x="128.5" y="511.6">N</text>
<text x="144.5" y="400.6">D</text>
<text x="144.5" y="511.6">D</text>
<text x="163.9" y="400.6" font-weight="bold" font-size="11.2" stroke="#000" stroke-width="0.3">08</text>
<text x="163.9" y="511.6" font-weight="bold" font-size="11.2" stroke="#000" stroke-width="0.3">08</text>
<text x="181.5" y="400.6">F</text>
<text x="181.5" y="511.6">F</text>
<text x="197.5" y="400.6">M</text>
<text x="197.5" y="511.6">M</text>
<text x="217.5" y="400.6">A</text>
<text x="217.5" y="511.6">A</text>
<text x="233.5" y="400.6">M</text>
<text x="233.5" y="511.6">M</text>
<text x="249.5" y="400.6">J</text>
<text x="249.5" y="511.6">J</text>
<text x="269.5" y="400.6">J</text>
<text x="269.5" y="511.6">J</text>
<text x="285.5" y="400.6">A</text>
<text x="285.5" y="511.6">A</text>
<text x="301.5" y="400.6">S</text>
<text x="301.5" y="511.6">S</text>
<text x="321.5" y="400.6">O</text>
<text x="321.5" y="511.6">O</text>
<text x="337.5" y="400.6">N</text>
<text x="337.5" y="511.6">N</text>
<text x="353.5" y="400.6">D</text>
<text x="353.5" y="511.6">D</text>
<text x="372.9" y="400.6" font-weight="bold" font-size="11.2" stroke="#000" stroke-width="0.3">09</text>
<text x="372.9" y="511.6" font-weight="bold" font-size="11.2" stroke="#000" stroke-width="0.3">09</text>
<text x="389.5" y="400.6">F</text>
<text x="389.5" y="511.6">F</text>
<text x="405.5" y="400.6">M</text>
<text x="405.5" y="511.6">M</text>
<text x="425.5" y="400.6">A</text>
<text x="425.5" y="511.6">A</text>
<text x="441.5" y="400.6">M</text>
<text x="441.5" y="511.6">M</text>
<text x="457.5" y="400.6">J</text>
<text x="457.5" y="511.6">J</text>
<text x="477.5" y="400.6">J</text>
<text x="477.5" y="511.6">J</text>
<text x="494.5" y="400.6">A</text>
<text x="494.5" y="511.6">A</text>
<text x="514.5" y="400.6">S</text>
<text x="514.5" y="511.6">S</text>
<text x="530.5" y="400.6">O</text>
<text x="530.5" y="511.6">O</text>
<text x="546.5" y="400.6">N</text>
<text x="546.5" y="511.6">N</text>
<text x="566.5" y="400.6">D</text>
<text x="566.5" y="511.6">D</text>
<text x="581.9" y="400.6" font-weight="bold" font-size="11.2" stroke="#000" stroke-width="0.3">10</text>
<text x="581.9" y="511.6" font-weight="bold" font-size="11.2" stroke="#000" stroke-width="0.3">10</text>
<text x="598.5" y="400.6">F</text>
<text x="598.5" y="511.6">F</text>
<text x="614.5" y="400.6">M</text>
<text x="614.5" y="511.6">M</text>
<text x="634.5" y="400.6">A</text>
<text x="634.5" y="511.6">A</text>
</g>
<g fill="#ddd">
<rect x="24.0" y="515.5" width="1" height="1"/>
<rect x="40.0" y="515.5" width="1" height="1"/>
<rect x="56.0" y="515.5" width="1" height="1"/>
<rect x="76.0" y="515.5" width="1" height="1"/>
<rect x="92.0" y="515.5" width="1" height="1"/>
<rect x="108.0" y="515.5" width="1" height="1"/>
<rect x="128.0" y="515.5" width="1" height="1"/>
<rect x="144.0" y="515.5" width="1" height="1"/>
<rect x="164.0" y="515.5" width="1" height="1"/>
<rect x="181.0" y="515.5" width="1" height="1"/>
<rect x="197.0" y="515.5" width="1" height="1"/>
<rect x="217.0" y="515.5" width="1" height="1"/>
<rect x="233.0" y="515.5" width="1" height="1"/>
<rect x="249.0" y="515.5" width="1" height="1"/>
<rect x="269.0" y="515.5" width="1" height="1"/>
<rect x="285.0" y="515.5" width="1" height="1"/>
<rect x="301.0" y="515.5" width="1" height="1"/>
<rect x="321.0" y="515.5" width="1" height="1"/>
<rect x="337.0" y="515.5" width="1" height="1"/>
<rect x="353.0" y="515.5" width="1" height="1"/>
<rect x="373.0" y="515.5" width="1" height="1"/>
<rect x="389.0" y="515.5" width="1" height="1"/>
<rect x="405.0" y="515.5" width="1" height="1"/>
<rect x="425.0" y="515.5" width="1" height="1"/>
<rect x="441.0" y="515.5" width="1" height="1"/>
<rect x="457.0" y="515.5" width="1" height="1"/>
<rect x="477.0" y="515.5" width="1" height="1"/>
<rect x="494.0" y="515.5" width="1" height="1"/>
<rect x="514.0" y="515.5" width="1" height="1"/>
<rect x="530.0" y="515.5" width="1" height="1"/>
<rect x="546.0" y="515.5" width="1" height="1"/>
<rect x="566.0" y="515.5" width="1" height="1"/>
<rect x="582.0" y="515.5" width="1" height="1"/>
<rect x="598.0" y="515.5" width="1" height="1"/>
<rect x="614.0" y="515.5" width="1" height="1"/>
<rect x="634.0" y="515.5" width="1" height="1"/>
</g>
<path d="M638.4 53.5 L641.6 48.5 H671.5 V58.5 H641.6 Z" fill="#fff" stroke="#1a5c1a" stroke-width="1.1" stroke-linejoin="miter"/>
<text x="643.2" y="56.8" font-family="Liberation Sans, sans-serif" font-size="9.2" textLength="26.5" lengthAdjust="spacingAndGlyphs" fill="#000" stroke="#000" stroke-width="0.22">63.65</text>
<path d="M638.4 210.5 L641.6 205.5 H689.5 V215.5 H641.6 Z" fill="#fff" stroke="#f00000" stroke-width="1.1" stroke-linejoin="miter"/>
<text x="643.2" y="213.8" font-family="Liberation Sans, sans-serif" font-size="9.2" textLength="44" lengthAdjust="spacingAndGlyphs" fill="#000" stroke="#000" stroke-width="0.22">13106.60</text>
<path d="M638.4 254.0 L641.6 248.5 H689.5 V259.5 H641.6 Z" fill="#fff" stroke="#000" stroke-width="1.5" stroke-linejoin="miter"/>
<text x="643.2" y="257.3" font-family="Liberation Sans, sans-serif" font-size="10.2" font-weight="bold" textLength="44.5" lengthAdjust="spacingAndGlyphs" fill="#000" stroke="#000" stroke-width="0">11168.20</text>
<path d="M638.4 279.5 L641.6 274.5 H689.5 V284.5 H641.6 Z" fill="#fff" stroke="#1a6e1a" stroke-width="1.1" stroke-linejoin="miter"/>
<path d="M638.4 281.5 L641.6 276.5 H689.5 V286.5 H641.6 Z" fill="#fff" stroke="#1c1c9c" stroke-width="1.1" stroke-linejoin="miter"/>
<text x="643.2" y="284.8" font-family="Liberation Sans, sans-serif" font-size="9.2" textLength="44" lengthAdjust="spacingAndGlyphs" fill="#000" stroke="#000" stroke-width="0.22">10119.61</text>
<path d="M638.4 423.5 L641.6 418.5 H677.5 V428.5 H641.6 Z" fill="#fff" stroke="#3a9ad9" stroke-width="1.1" stroke-linejoin="miter"/>
<text x="643.2" y="426.8" font-family="Liberation Sans, sans-serif" font-size="9.2" textLength="33" lengthAdjust="spacingAndGlyphs" fill="#000" stroke="#000" stroke-width="0.22">82.211</text>
<path d="M638.4 418.5 L641.6 413.5 H683.5 V423.5 H641.6 Z" fill="#fff" stroke="#f00000" stroke-width="1.1" stroke-linejoin="miter"/>
<path d="M638.4 415.5 L641.6 410.5 H683.5 V420.5 H641.6 Z" fill="#fff" stroke="#000" stroke-width="1.25" stroke-linejoin="miter"/>
<text x="643.2" y="418.8" font-family="Liberation Sans, sans-serif" font-size="9.2" textLength="38" lengthAdjust="spacingAndGlyphs" fill="#000" stroke="#000" stroke-width="0.22">274.197</text>
<path d="M0 522.3 H701" stroke="#d8d4d4" stroke-width="1"/>
<path d="M0 523.5 H701" stroke="#9a9494" stroke-width="1.3"/>
</svg>
<div class="note"><p>週足のポイント</p><p>５０－１００週のレンジをブレイクして、</p><p>１００－２００週のレンジに移行した。</p><p>５０－１００もＧＣしそうだし、５０（もしくは</p><p>１００）－２００週のレンジ相場に変わりはなし。</p><p>上値は２００週の１３０００近辺。</p></div>
</body></html>
